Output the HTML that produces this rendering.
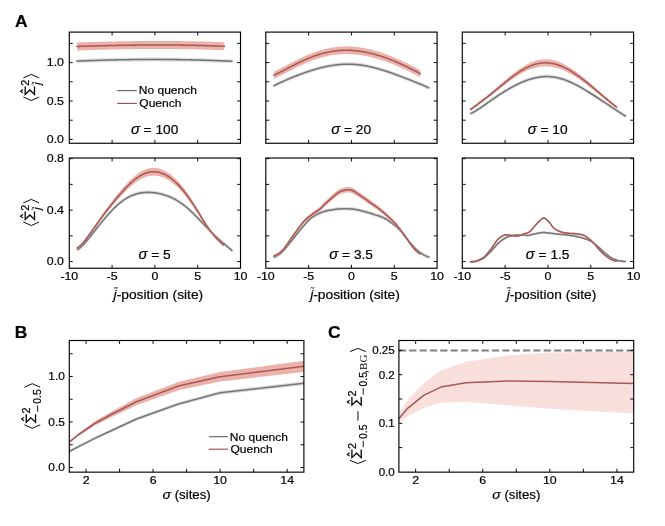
<!DOCTYPE html>
<html><head><meta charset="utf-8"><title>Figure</title>
<style>
domain{display:none;position:absolute;left:-9999px;top:-9999px;font-size:0;}
html,body{margin:0;padding:0;background:#fff;}
body{width:665px;height:526px;overflow:hidden;position:relative;font-family:"Liberation Sans",sans-serif;}
svg{display:block;position:absolute;left:0;top:0;z-index:5;will-change:transform;font-family:"Liberation Sans",sans-serif;}
svg text{fill:#000;stroke:#000;stroke-width:0.2px;}
</style></head><body>
<svg width="665" height="526" viewBox="0 0 665 526">
<rect width="665" height="526" fill="#fff"/>
<path d="M77.07,59.23 L77.85,59.19 L78.63,59.16 L79.40,59.13 L80.18,59.09 L80.96,59.06 L81.74,59.03 L82.52,59.00 L83.30,58.97 L84.08,58.94 L84.85,58.91 L85.63,58.88 L86.41,58.85 L87.19,58.82 L87.97,58.79 L88.75,58.76 L89.53,58.73 L90.31,58.70 L91.08,58.67 L91.86,58.65 L92.64,58.62 L93.42,58.59 L94.20,58.57 L94.98,58.54 L95.76,58.51 L96.53,58.49 L97.31,58.46 L98.09,58.44 L98.87,58.41 L99.65,58.39 L100.43,58.37 L101.21,58.34 L101.99,58.32 L102.76,58.30 L103.54,58.27 L104.32,58.25 L105.10,58.23 L105.88,58.21 L106.66,58.19 L107.44,58.17 L108.21,58.15 L108.99,58.13 L109.77,58.11 L110.55,58.09 L111.33,58.07 L112.11,58.05 L112.89,58.03 L113.66,58.02 L114.44,58.00 L115.22,57.98 L116.00,57.96 L116.78,57.95 L117.56,57.93 L118.34,57.92 L119.12,57.90 L119.89,57.89 L120.67,57.87 L121.45,57.86 L122.23,57.84 L123.01,57.83 L123.79,57.81 L124.57,57.80 L125.34,57.79 L126.12,57.78 L126.90,57.76 L127.68,57.75 L128.46,57.74 L129.24,57.73 L130.02,57.72 L130.80,57.71 L131.57,57.70 L132.35,57.69 L133.13,57.68 L133.91,57.67 L134.69,57.66 L135.47,57.66 L136.25,57.65 L137.02,57.64 L137.80,57.63 L138.58,57.63 L139.36,57.62 L140.14,57.61 L140.92,57.61 L141.70,57.60 L142.48,57.60 L143.25,57.59 L144.03,57.59 L144.81,57.58 L145.59,57.58 L146.37,57.58 L147.15,57.57 L147.93,57.57 L148.70,57.57 L149.48,57.57 L150.26,57.57 L151.04,57.56 L151.82,57.56 L152.60,57.56 L153.38,57.56 L154.16,57.56 L154.93,57.56 L155.71,57.56 L156.49,57.57 L157.27,57.57 L158.05,57.57 L158.83,57.57 L159.61,57.57 L160.38,57.58 L161.16,57.58 L161.94,57.58 L162.72,57.59 L163.50,57.59 L164.28,57.60 L165.06,57.60 L165.84,57.61 L166.61,57.61 L167.39,57.62 L168.17,57.63 L168.95,57.63 L169.73,57.64 L170.51,57.65 L171.29,57.66 L172.06,57.66 L172.84,57.67 L173.62,57.68 L174.40,57.69 L175.18,57.70 L175.96,57.71 L176.74,57.72 L177.51,57.73 L178.29,57.74 L179.07,57.75 L179.85,57.77 L180.63,57.78 L181.41,57.79 L182.19,57.80 L182.97,57.82 L183.74,57.83 L184.52,57.84 L185.30,57.86 L186.08,57.87 L186.86,57.89 L187.64,57.90 L188.42,57.92 L189.19,57.94 L189.97,57.95 L190.75,57.97 L191.53,57.99 L192.31,58.00 L193.09,58.02 L193.87,58.04 L194.65,58.06 L195.42,58.08 L196.20,58.10 L196.98,58.12 L197.76,58.14 L198.54,58.16 L199.32,58.18 L200.10,58.20 L200.87,58.22 L201.65,58.24 L202.43,58.26 L203.21,58.29 L203.99,58.31 L204.77,58.33 L205.55,58.36 L206.33,58.38 L207.10,58.40 L207.88,58.43 L208.66,58.45 L209.44,58.48 L210.22,58.50 L211.00,58.53 L211.78,58.56 L212.55,58.58 L213.33,58.61 L214.11,58.64 L214.89,58.67 L215.67,58.69 L216.45,58.72 L217.23,58.75 L218.01,58.78 L218.78,58.81 L219.56,58.84 L220.34,58.87 L221.12,58.90 L221.90,58.93 L222.68,58.96 L223.46,59.00 L224.23,59.03 L225.01,59.06 L225.79,59.09 L226.57,59.13 L227.35,59.16 L228.13,59.20 L228.91,59.23 L229.69,59.26 L230.46,59.30 L231.24,59.33 L232.02,59.37 L232.02,63.17 L231.24,63.13 L230.46,63.10 L229.69,63.06 L228.91,63.03 L228.13,63.00 L227.35,62.96 L226.57,62.93 L225.79,62.89 L225.01,62.86 L224.23,62.83 L223.46,62.80 L222.68,62.76 L221.90,62.73 L221.12,62.70 L220.34,62.67 L219.56,62.64 L218.78,62.61 L218.01,62.58 L217.23,62.55 L216.45,62.52 L215.67,62.49 L214.89,62.47 L214.11,62.44 L213.33,62.41 L212.55,62.38 L211.78,62.36 L211.00,62.33 L210.22,62.30 L209.44,62.28 L208.66,62.25 L207.88,62.23 L207.10,62.20 L206.33,62.18 L205.55,62.16 L204.77,62.13 L203.99,62.11 L203.21,62.09 L202.43,62.06 L201.65,62.04 L200.87,62.02 L200.10,62.00 L199.32,61.98 L198.54,61.96 L197.76,61.94 L196.98,61.92 L196.20,61.90 L195.42,61.88 L194.65,61.86 L193.87,61.84 L193.09,61.82 L192.31,61.80 L191.53,61.79 L190.75,61.77 L189.97,61.75 L189.19,61.74 L188.42,61.72 L187.64,61.70 L186.86,61.69 L186.08,61.67 L185.30,61.66 L184.52,61.64 L183.74,61.63 L182.97,61.62 L182.19,61.60 L181.41,61.59 L180.63,61.58 L179.85,61.57 L179.07,61.55 L178.29,61.54 L177.51,61.53 L176.74,61.52 L175.96,61.51 L175.18,61.50 L174.40,61.49 L173.62,61.48 L172.84,61.47 L172.06,61.46 L171.29,61.46 L170.51,61.45 L169.73,61.44 L168.95,61.43 L168.17,61.43 L167.39,61.42 L166.61,61.41 L165.84,61.41 L165.06,61.40 L164.28,61.40 L163.50,61.39 L162.72,61.39 L161.94,61.38 L161.16,61.38 L160.38,61.38 L159.61,61.37 L158.83,61.37 L158.05,61.37 L157.27,61.37 L156.49,61.37 L155.71,61.36 L154.93,61.36 L154.16,61.36 L153.38,61.36 L152.60,61.36 L151.82,61.36 L151.04,61.36 L150.26,61.37 L149.48,61.37 L148.70,61.37 L147.93,61.37 L147.15,61.37 L146.37,61.38 L145.59,61.38 L144.81,61.38 L144.03,61.39 L143.25,61.39 L142.48,61.40 L141.70,61.40 L140.92,61.41 L140.14,61.41 L139.36,61.42 L138.58,61.43 L137.80,61.43 L137.02,61.44 L136.25,61.45 L135.47,61.46 L134.69,61.46 L133.91,61.47 L133.13,61.48 L132.35,61.49 L131.57,61.50 L130.80,61.51 L130.02,61.52 L129.24,61.53 L128.46,61.54 L127.68,61.55 L126.90,61.56 L126.12,61.58 L125.34,61.59 L124.57,61.60 L123.79,61.61 L123.01,61.63 L122.23,61.64 L121.45,61.66 L120.67,61.67 L119.89,61.69 L119.12,61.70 L118.34,61.72 L117.56,61.73 L116.78,61.75 L116.00,61.76 L115.22,61.78 L114.44,61.80 L113.66,61.82 L112.89,61.83 L112.11,61.85 L111.33,61.87 L110.55,61.89 L109.77,61.91 L108.99,61.93 L108.21,61.95 L107.44,61.97 L106.66,61.99 L105.88,62.01 L105.10,62.03 L104.32,62.05 L103.54,62.07 L102.76,62.10 L101.99,62.12 L101.21,62.14 L100.43,62.17 L99.65,62.19 L98.87,62.21 L98.09,62.24 L97.31,62.26 L96.53,62.29 L95.76,62.31 L94.98,62.34 L94.20,62.37 L93.42,62.39 L92.64,62.42 L91.86,62.45 L91.08,62.47 L90.31,62.50 L89.53,62.53 L88.75,62.56 L87.97,62.59 L87.19,62.62 L86.41,62.65 L85.63,62.68 L84.85,62.71 L84.08,62.74 L83.30,62.77 L82.52,62.80 L81.74,62.83 L80.96,62.86 L80.18,62.89 L79.40,62.93 L78.63,62.96 L77.85,62.99 L77.07,63.03Z" fill="#dddddd" stroke="none"/>
<path d="M77.07,61.13 L77.85,61.09 L78.63,61.06 L79.40,61.03 L80.18,60.99 L80.96,60.96 L81.74,60.93 L82.52,60.90 L83.30,60.87 L84.08,60.84 L84.85,60.81 L85.63,60.78 L86.41,60.75 L87.19,60.72 L87.97,60.69 L88.75,60.66 L89.53,60.63 L90.31,60.60 L91.08,60.57 L91.86,60.55 L92.64,60.52 L93.42,60.49 L94.20,60.47 L94.98,60.44 L95.76,60.41 L96.53,60.39 L97.31,60.36 L98.09,60.34 L98.87,60.31 L99.65,60.29 L100.43,60.27 L101.21,60.24 L101.99,60.22 L102.76,60.20 L103.54,60.17 L104.32,60.15 L105.10,60.13 L105.88,60.11 L106.66,60.09 L107.44,60.07 L108.21,60.05 L108.99,60.03 L109.77,60.01 L110.55,59.99 L111.33,59.97 L112.11,59.95 L112.89,59.93 L113.66,59.92 L114.44,59.90 L115.22,59.88 L116.00,59.86 L116.78,59.85 L117.56,59.83 L118.34,59.82 L119.12,59.80 L119.89,59.79 L120.67,59.77 L121.45,59.76 L122.23,59.74 L123.01,59.73 L123.79,59.71 L124.57,59.70 L125.34,59.69 L126.12,59.68 L126.90,59.66 L127.68,59.65 L128.46,59.64 L129.24,59.63 L130.02,59.62 L130.80,59.61 L131.57,59.60 L132.35,59.59 L133.13,59.58 L133.91,59.57 L134.69,59.56 L135.47,59.56 L136.25,59.55 L137.02,59.54 L137.80,59.53 L138.58,59.53 L139.36,59.52 L140.14,59.51 L140.92,59.51 L141.70,59.50 L142.48,59.50 L143.25,59.49 L144.03,59.49 L144.81,59.48 L145.59,59.48 L146.37,59.48 L147.15,59.47 L147.93,59.47 L148.70,59.47 L149.48,59.47 L150.26,59.47 L151.04,59.46 L151.82,59.46 L152.60,59.46 L153.38,59.46 L154.16,59.46 L154.93,59.46 L155.71,59.46 L156.49,59.47 L157.27,59.47 L158.05,59.47 L158.83,59.47 L159.61,59.47 L160.38,59.48 L161.16,59.48 L161.94,59.48 L162.72,59.49 L163.50,59.49 L164.28,59.50 L165.06,59.50 L165.84,59.51 L166.61,59.51 L167.39,59.52 L168.17,59.53 L168.95,59.53 L169.73,59.54 L170.51,59.55 L171.29,59.56 L172.06,59.56 L172.84,59.57 L173.62,59.58 L174.40,59.59 L175.18,59.60 L175.96,59.61 L176.74,59.62 L177.51,59.63 L178.29,59.64 L179.07,59.65 L179.85,59.67 L180.63,59.68 L181.41,59.69 L182.19,59.70 L182.97,59.72 L183.74,59.73 L184.52,59.74 L185.30,59.76 L186.08,59.77 L186.86,59.79 L187.64,59.80 L188.42,59.82 L189.19,59.84 L189.97,59.85 L190.75,59.87 L191.53,59.89 L192.31,59.90 L193.09,59.92 L193.87,59.94 L194.65,59.96 L195.42,59.98 L196.20,60.00 L196.98,60.02 L197.76,60.04 L198.54,60.06 L199.32,60.08 L200.10,60.10 L200.87,60.12 L201.65,60.14 L202.43,60.16 L203.21,60.19 L203.99,60.21 L204.77,60.23 L205.55,60.26 L206.33,60.28 L207.10,60.30 L207.88,60.33 L208.66,60.35 L209.44,60.38 L210.22,60.40 L211.00,60.43 L211.78,60.46 L212.55,60.48 L213.33,60.51 L214.11,60.54 L214.89,60.57 L215.67,60.59 L216.45,60.62 L217.23,60.65 L218.01,60.68 L218.78,60.71 L219.56,60.74 L220.34,60.77 L221.12,60.80 L221.90,60.83 L222.68,60.86 L223.46,60.90 L224.23,60.93 L225.01,60.96 L225.79,60.99 L226.57,61.03 L227.35,61.06 L228.13,61.10 L228.91,61.13 L229.69,61.16 L230.46,61.20 L231.24,61.23 L232.02,61.27" fill="none" stroke="#767676" stroke-width="1.55" stroke-linejoin="round" stroke-linecap="square"/>
<path d="M77.07,42.46 L77.81,42.44 L78.55,42.41 L79.29,42.39 L80.03,42.37 L80.77,42.34 L81.51,42.32 L82.25,42.30 L82.99,42.27 L83.73,42.25 L84.47,42.23 L85.21,42.21 L85.94,42.18 L86.68,42.16 L87.42,42.14 L88.16,42.12 L88.90,42.09 L89.64,42.07 L90.38,42.05 L91.12,42.03 L91.86,42.01 L92.60,41.99 L93.34,41.97 L94.08,41.95 L94.82,41.93 L95.56,41.91 L96.30,41.88 L97.04,41.86 L97.78,41.84 L98.52,41.83 L99.26,41.81 L100.00,41.79 L100.74,41.77 L101.48,41.75 L102.22,41.73 L102.96,41.71 L103.70,41.69 L104.44,41.67 L105.18,41.66 L105.92,41.64 L106.66,41.62 L107.40,41.60 L108.14,41.58 L108.88,41.57 L109.62,41.55 L110.36,41.53 L111.10,41.52 L111.84,41.50 L112.57,41.49 L113.31,41.47 L114.05,41.45 L114.79,41.44 L115.53,41.42 L116.27,41.41 L117.01,41.39 L117.75,41.38 L118.49,41.36 L119.23,41.35 L119.97,41.34 L120.71,41.32 L121.45,41.31 L122.19,41.29 L122.93,41.28 L123.67,41.27 L124.41,41.26 L125.15,41.24 L125.89,41.23 L126.63,41.22 L127.37,41.21 L128.11,41.20 L128.85,41.19 L129.59,41.17 L130.33,41.16 L131.07,41.15 L131.81,41.14 L132.55,41.13 L133.29,41.12 L134.03,41.11 L134.77,41.10 L135.51,41.10 L136.25,41.09 L136.99,41.08 L137.73,41.07 L138.47,41.06 L139.20,41.05 L139.94,41.05 L140.68,41.04 L141.42,41.03 L142.16,41.03 L142.90,41.02 L143.64,41.01 L144.38,41.01 L145.12,41.00 L145.86,41.00 L146.60,40.99 L147.34,40.99 L148.08,40.98 L148.82,40.98 L149.56,40.98 L150.30,40.97 L151.04,40.97 L151.78,40.97 L152.52,40.96 L153.26,40.96 L154.00,40.96 L154.74,40.96 L155.48,40.96 L156.22,40.96 L156.96,40.95 L157.70,40.95 L158.44,40.95 L159.18,40.95 L159.92,40.95 L160.66,40.95 L161.40,40.96 L162.14,40.96 L162.88,40.96 L163.62,40.96 L164.36,40.96 L165.10,40.97 L165.84,40.97 L166.57,40.97 L167.31,40.97 L168.05,40.98 L168.79,40.98 L169.53,40.99 L170.27,40.99 L171.01,41.00 L171.75,41.00 L172.49,41.01 L173.23,41.01 L173.97,41.02 L174.71,41.03 L175.45,41.04 L176.19,41.04 L176.93,41.05 L177.67,41.06 L178.41,41.07 L179.15,41.08 L179.89,41.09 L180.63,41.10 L181.37,41.11 L182.11,41.12 L182.85,41.13 L183.59,41.14 L184.33,41.15 L185.07,41.16 L185.81,41.17 L186.55,41.19 L187.29,41.20 L188.03,41.21 L188.77,41.23 L189.51,41.24 L190.25,41.25 L190.99,41.27 L191.73,41.28 L192.47,41.30 L193.20,41.32 L193.94,41.33 L194.68,41.35 L195.42,41.37 L196.16,41.38 L196.90,41.40 L197.64,41.42 L198.38,41.44 L199.12,41.46 L199.86,41.48 L200.60,41.50 L201.34,41.52 L202.08,41.54 L202.82,41.56 L203.56,41.58 L204.30,41.60 L205.04,41.62 L205.78,41.65 L206.52,41.67 L207.26,41.69 L208.00,41.72 L208.74,41.74 L209.48,41.77 L210.22,41.79 L210.96,41.82 L211.70,41.84 L212.44,41.87 L213.18,41.89 L213.92,41.92 L214.66,41.95 L215.40,41.98 L216.14,42.01 L216.88,42.04 L217.62,42.06 L218.36,42.09 L219.10,42.12 L219.84,42.16 L220.57,42.19 L221.31,42.22 L222.05,42.25 L222.79,42.28 L223.53,42.32 L224.27,42.35 L224.27,50.35 L223.53,50.32 L222.79,50.28 L222.05,50.25 L221.31,50.22 L220.57,50.19 L219.84,50.16 L219.10,50.12 L218.36,50.09 L217.62,50.06 L216.88,50.04 L216.14,50.01 L215.40,49.98 L214.66,49.95 L213.92,49.92 L213.18,49.89 L212.44,49.87 L211.70,49.84 L210.96,49.82 L210.22,49.79 L209.48,49.77 L208.74,49.74 L208.00,49.72 L207.26,49.69 L206.52,49.67 L205.78,49.65 L205.04,49.62 L204.30,49.60 L203.56,49.58 L202.82,49.56 L202.08,49.54 L201.34,49.52 L200.60,49.50 L199.86,49.48 L199.12,49.46 L198.38,49.44 L197.64,49.42 L196.90,49.40 L196.16,49.38 L195.42,49.37 L194.68,49.35 L193.94,49.33 L193.20,49.32 L192.47,49.30 L191.73,49.28 L190.99,49.27 L190.25,49.25 L189.51,49.24 L188.77,49.23 L188.03,49.21 L187.29,49.20 L186.55,49.19 L185.81,49.17 L185.07,49.16 L184.33,49.15 L183.59,49.14 L182.85,49.13 L182.11,49.12 L181.37,49.11 L180.63,49.10 L179.89,49.09 L179.15,49.08 L178.41,49.07 L177.67,49.06 L176.93,49.05 L176.19,49.04 L175.45,49.04 L174.71,49.03 L173.97,49.02 L173.23,49.01 L172.49,49.01 L171.75,49.00 L171.01,49.00 L170.27,48.99 L169.53,48.99 L168.79,48.98 L168.05,48.98 L167.31,48.97 L166.57,48.97 L165.84,48.97 L165.10,48.97 L164.36,48.96 L163.62,48.96 L162.88,48.96 L162.14,48.96 L161.40,48.96 L160.66,48.95 L159.92,48.95 L159.18,48.95 L158.44,48.95 L157.70,48.95 L156.96,48.95 L156.22,48.96 L155.48,48.96 L154.74,48.96 L154.00,48.96 L153.26,48.96 L152.52,48.96 L151.78,48.97 L151.04,48.97 L150.30,48.97 L149.56,48.98 L148.82,48.98 L148.08,48.98 L147.34,48.99 L146.60,48.99 L145.86,49.00 L145.12,49.00 L144.38,49.01 L143.64,49.01 L142.90,49.02 L142.16,49.03 L141.42,49.03 L140.68,49.04 L139.94,49.05 L139.20,49.05 L138.47,49.06 L137.73,49.07 L136.99,49.08 L136.25,49.09 L135.51,49.10 L134.77,49.10 L134.03,49.11 L133.29,49.12 L132.55,49.13 L131.81,49.14 L131.07,49.15 L130.33,49.16 L129.59,49.17 L128.85,49.19 L128.11,49.20 L127.37,49.21 L126.63,49.22 L125.89,49.23 L125.15,49.24 L124.41,49.26 L123.67,49.27 L122.93,49.28 L122.19,49.29 L121.45,49.31 L120.71,49.32 L119.97,49.34 L119.23,49.35 L118.49,49.36 L117.75,49.38 L117.01,49.39 L116.27,49.41 L115.53,49.42 L114.79,49.44 L114.05,49.45 L113.31,49.47 L112.57,49.49 L111.84,49.50 L111.10,49.52 L110.36,49.53 L109.62,49.55 L108.88,49.57 L108.14,49.58 L107.40,49.60 L106.66,49.62 L105.92,49.64 L105.18,49.66 L104.44,49.67 L103.70,49.69 L102.96,49.71 L102.22,49.73 L101.48,49.75 L100.74,49.77 L100.00,49.79 L99.26,49.81 L98.52,49.83 L97.78,49.84 L97.04,49.86 L96.30,49.88 L95.56,49.91 L94.82,49.93 L94.08,49.95 L93.34,49.97 L92.60,49.99 L91.86,50.01 L91.12,50.03 L90.38,50.05 L89.64,50.07 L88.90,50.09 L88.16,50.12 L87.42,50.14 L86.68,50.16 L85.94,50.18 L85.21,50.21 L84.47,50.23 L83.73,50.25 L82.99,50.27 L82.25,50.30 L81.51,50.32 L80.77,50.34 L80.03,50.37 L79.29,50.39 L78.55,50.41 L77.81,50.44 L77.07,50.46Z" fill="#eeb1a9" stroke="none"/>
<path d="M77.07,46.46 L77.81,46.44 L78.55,46.41 L79.29,46.39 L80.03,46.37 L80.77,46.34 L81.51,46.32 L82.25,46.30 L82.99,46.27 L83.73,46.25 L84.47,46.23 L85.21,46.21 L85.94,46.18 L86.68,46.16 L87.42,46.14 L88.16,46.12 L88.90,46.09 L89.64,46.07 L90.38,46.05 L91.12,46.03 L91.86,46.01 L92.60,45.99 L93.34,45.97 L94.08,45.95 L94.82,45.93 L95.56,45.91 L96.30,45.88 L97.04,45.86 L97.78,45.84 L98.52,45.83 L99.26,45.81 L100.00,45.79 L100.74,45.77 L101.48,45.75 L102.22,45.73 L102.96,45.71 L103.70,45.69 L104.44,45.67 L105.18,45.66 L105.92,45.64 L106.66,45.62 L107.40,45.60 L108.14,45.58 L108.88,45.57 L109.62,45.55 L110.36,45.53 L111.10,45.52 L111.84,45.50 L112.57,45.49 L113.31,45.47 L114.05,45.45 L114.79,45.44 L115.53,45.42 L116.27,45.41 L117.01,45.39 L117.75,45.38 L118.49,45.36 L119.23,45.35 L119.97,45.34 L120.71,45.32 L121.45,45.31 L122.19,45.29 L122.93,45.28 L123.67,45.27 L124.41,45.26 L125.15,45.24 L125.89,45.23 L126.63,45.22 L127.37,45.21 L128.11,45.20 L128.85,45.19 L129.59,45.17 L130.33,45.16 L131.07,45.15 L131.81,45.14 L132.55,45.13 L133.29,45.12 L134.03,45.11 L134.77,45.10 L135.51,45.10 L136.25,45.09 L136.99,45.08 L137.73,45.07 L138.47,45.06 L139.20,45.05 L139.94,45.05 L140.68,45.04 L141.42,45.03 L142.16,45.03 L142.90,45.02 L143.64,45.01 L144.38,45.01 L145.12,45.00 L145.86,45.00 L146.60,44.99 L147.34,44.99 L148.08,44.98 L148.82,44.98 L149.56,44.98 L150.30,44.97 L151.04,44.97 L151.78,44.97 L152.52,44.96 L153.26,44.96 L154.00,44.96 L154.74,44.96 L155.48,44.96 L156.22,44.96 L156.96,44.95 L157.70,44.95 L158.44,44.95 L159.18,44.95 L159.92,44.95 L160.66,44.95 L161.40,44.96 L162.14,44.96 L162.88,44.96 L163.62,44.96 L164.36,44.96 L165.10,44.97 L165.84,44.97 L166.57,44.97 L167.31,44.97 L168.05,44.98 L168.79,44.98 L169.53,44.99 L170.27,44.99 L171.01,45.00 L171.75,45.00 L172.49,45.01 L173.23,45.01 L173.97,45.02 L174.71,45.03 L175.45,45.04 L176.19,45.04 L176.93,45.05 L177.67,45.06 L178.41,45.07 L179.15,45.08 L179.89,45.09 L180.63,45.10 L181.37,45.11 L182.11,45.12 L182.85,45.13 L183.59,45.14 L184.33,45.15 L185.07,45.16 L185.81,45.17 L186.55,45.19 L187.29,45.20 L188.03,45.21 L188.77,45.23 L189.51,45.24 L190.25,45.25 L190.99,45.27 L191.73,45.28 L192.47,45.30 L193.20,45.32 L193.94,45.33 L194.68,45.35 L195.42,45.37 L196.16,45.38 L196.90,45.40 L197.64,45.42 L198.38,45.44 L199.12,45.46 L199.86,45.48 L200.60,45.50 L201.34,45.52 L202.08,45.54 L202.82,45.56 L203.56,45.58 L204.30,45.60 L205.04,45.62 L205.78,45.65 L206.52,45.67 L207.26,45.69 L208.00,45.72 L208.74,45.74 L209.48,45.77 L210.22,45.79 L210.96,45.82 L211.70,45.84 L212.44,45.87 L213.18,45.89 L213.92,45.92 L214.66,45.95 L215.40,45.98 L216.14,46.01 L216.88,46.04 L217.62,46.06 L218.36,46.09 L219.10,46.12 L219.84,46.16 L220.57,46.19 L221.31,46.22 L222.05,46.25 L222.79,46.28 L223.53,46.32 L224.27,46.35" fill="none" stroke="#a55a57" stroke-width="1.55" stroke-linejoin="round" stroke-linecap="square"/>
<rect x="69.3" y="32.1" width="171.20" height="111.15" fill="none" stroke="#000" stroke-width="1.15"/>
<path d="M112.10,32.1v3.4M112.10,143.25v-3.4M154.90,32.1v3.4M154.90,143.25v-3.4M197.70,32.1v3.4M197.70,143.25v-3.4M69.3,139.40h3.4M240.5,139.40h-3.4M69.3,120.20h3.4M240.5,120.20h-3.4M69.3,101.00h3.4M240.5,101.00h-3.4M69.3,81.80h3.4M240.5,81.80h-3.4M69.3,62.60h3.4M240.5,62.60h-3.4M69.3,43.40h3.4M240.5,43.40h-3.4" stroke="#000" stroke-width="0.95" fill="none"/>
<text transform="translate(154.60,133.90) scale(1.04,1)" font-size="13.2" text-anchor="middle" ><tspan font-style="italic" font-size="14.2">σ</tspan> = 100</text>
<text transform="translate(64.00,66.35) scale(1.085,1)" font-size="11.4" text-anchor="end" >1.0</text>
<text transform="translate(64.00,104.75) scale(1.085,1)" font-size="11.4" text-anchor="end" >0.5</text>
<text transform="translate(64.00,143.15) scale(1.085,1)" font-size="11.4" text-anchor="end" >0.0</text>
<path d="M274.02,83.86 L274.80,83.45 L275.58,83.06 L276.35,82.66 L277.13,82.28 L277.91,81.90 L278.69,81.52 L279.47,81.15 L280.24,80.78 L281.02,80.42 L281.80,80.06 L282.58,79.70 L283.36,79.35 L284.13,79.00 L284.91,78.66 L285.69,78.32 L286.47,77.98 L287.25,77.64 L288.02,77.31 L288.80,76.98 L289.58,76.66 L290.36,76.33 L291.14,76.01 L291.92,75.69 L292.69,75.38 L293.47,75.06 L294.25,74.75 L295.03,74.44 L295.81,74.14 L296.58,73.84 L297.36,73.54 L298.14,73.24 L298.92,72.94 L299.70,72.65 L300.47,72.36 L301.25,72.07 L302.03,71.79 L302.81,71.51 L303.59,71.23 L304.36,70.95 L305.14,70.68 L305.92,70.41 L306.70,70.14 L307.48,69.87 L308.25,69.61 L309.03,69.35 L309.81,69.10 L310.59,68.85 L311.37,68.60 L312.15,68.35 L312.92,68.11 L313.70,67.88 L314.48,67.64 L315.26,67.41 L316.04,67.19 L316.81,66.96 L317.59,66.75 L318.37,66.53 L319.15,66.32 L319.93,66.12 L320.70,65.92 L321.48,65.72 L322.26,65.53 L323.04,65.34 L323.82,65.16 L324.59,64.99 L325.37,64.81 L326.15,64.65 L326.93,64.48 L327.71,64.33 L328.48,64.18 L329.26,64.03 L330.04,63.89 L330.82,63.75 L331.60,63.62 L332.38,63.50 L333.15,63.38 L333.93,63.27 L334.71,63.16 L335.49,63.06 L336.27,62.96 L337.04,62.87 L337.82,62.79 L338.60,62.71 L339.38,62.64 L340.16,62.58 L340.93,62.52 L341.71,62.47 L342.49,62.42 L343.27,62.38 L344.05,62.35 L344.82,62.32 L345.60,62.30 L346.38,62.28 L347.16,62.27 L347.94,62.27 L348.71,62.28 L349.49,62.29 L350.27,62.30 L351.05,62.33 L351.83,62.36 L352.61,62.39 L353.38,62.44 L354.16,62.49 L354.94,62.54 L355.72,62.60 L356.50,62.67 L357.27,62.74 L358.05,62.82 L358.83,62.91 L359.61,63.00 L360.39,63.10 L361.16,63.21 L361.94,63.32 L362.72,63.43 L363.50,63.56 L364.28,63.68 L365.05,63.82 L365.83,63.96 L366.61,64.10 L367.39,64.25 L368.17,64.41 L368.94,64.57 L369.72,64.74 L370.50,64.91 L371.28,65.08 L372.06,65.27 L372.84,65.45 L373.61,65.64 L374.39,65.84 L375.17,66.04 L375.95,66.25 L376.73,66.46 L377.50,66.67 L378.28,66.89 L379.06,67.11 L379.84,67.34 L380.62,67.57 L381.39,67.80 L382.17,68.04 L382.95,68.28 L383.73,68.52 L384.51,68.77 L385.28,69.02 L386.06,69.28 L386.84,69.54 L387.62,69.80 L388.40,70.06 L389.17,70.33 L389.95,70.59 L390.73,70.87 L391.51,71.14 L392.29,71.42 L393.07,71.69 L393.84,71.97 L394.62,72.26 L395.40,72.54 L396.18,72.82 L396.96,73.11 L397.73,73.40 L398.51,73.69 L399.29,73.98 L400.07,74.28 L400.85,74.57 L401.62,74.87 L402.40,75.16 L403.18,75.46 L403.96,75.76 L404.74,76.06 L405.51,76.36 L406.29,76.66 L407.07,76.97 L407.85,77.27 L408.63,77.57 L409.40,77.88 L410.18,78.18 L410.96,78.49 L411.74,78.80 L412.52,79.11 L413.30,79.42 L414.07,79.73 L414.85,80.04 L415.63,80.35 L416.41,80.66 L417.19,80.97 L417.96,81.29 L418.74,81.61 L419.52,81.92 L420.30,82.24 L421.08,82.56 L421.85,82.88 L422.63,83.21 L423.41,83.53 L424.19,83.86 L424.97,84.19 L425.74,84.53 L426.52,84.86 L427.30,85.20 L428.08,85.54 L428.86,85.89 L428.86,89.69 L428.08,89.34 L427.30,89.00 L426.52,88.66 L425.74,88.33 L424.97,87.99 L424.19,87.66 L423.41,87.33 L422.63,87.01 L421.85,86.68 L421.08,86.36 L420.30,86.04 L419.52,85.72 L418.74,85.41 L417.96,85.09 L417.19,84.77 L416.41,84.46 L415.63,84.15 L414.85,83.84 L414.07,83.53 L413.30,83.22 L412.52,82.91 L411.74,82.60 L410.96,82.29 L410.18,81.98 L409.40,81.68 L408.63,81.37 L407.85,81.07 L407.07,80.77 L406.29,80.46 L405.51,80.16 L404.74,79.86 L403.96,79.56 L403.18,79.26 L402.40,78.96 L401.62,78.67 L400.85,78.37 L400.07,78.08 L399.29,77.78 L398.51,77.49 L397.73,77.20 L396.96,76.91 L396.18,76.62 L395.40,76.34 L394.62,76.06 L393.84,75.77 L393.07,75.49 L392.29,75.22 L391.51,74.94 L390.73,74.67 L389.95,74.39 L389.17,74.13 L388.40,73.86 L387.62,73.60 L386.84,73.34 L386.06,73.08 L385.28,72.82 L384.51,72.57 L383.73,72.32 L382.95,72.08 L382.17,71.84 L381.39,71.60 L380.62,71.37 L379.84,71.14 L379.06,70.91 L378.28,70.69 L377.50,70.47 L376.73,70.26 L375.95,70.05 L375.17,69.84 L374.39,69.64 L373.61,69.44 L372.84,69.25 L372.06,69.07 L371.28,68.88 L370.50,68.71 L369.72,68.54 L368.94,68.37 L368.17,68.21 L367.39,68.05 L366.61,67.90 L365.83,67.76 L365.05,67.62 L364.28,67.48 L363.50,67.36 L362.72,67.23 L361.94,67.12 L361.16,67.01 L360.39,66.90 L359.61,66.80 L358.83,66.71 L358.05,66.62 L357.27,66.54 L356.50,66.47 L355.72,66.40 L354.94,66.34 L354.16,66.29 L353.38,66.24 L352.61,66.19 L351.83,66.16 L351.05,66.13 L350.27,66.10 L349.49,66.09 L348.71,66.08 L347.94,66.07 L347.16,66.07 L346.38,66.08 L345.60,66.10 L344.82,66.12 L344.05,66.15 L343.27,66.18 L342.49,66.22 L341.71,66.27 L340.93,66.32 L340.16,66.38 L339.38,66.44 L338.60,66.51 L337.82,66.59 L337.04,66.67 L336.27,66.76 L335.49,66.86 L334.71,66.96 L333.93,67.07 L333.15,67.18 L332.38,67.30 L331.60,67.42 L330.82,67.55 L330.04,67.69 L329.26,67.83 L328.48,67.98 L327.71,68.13 L326.93,68.28 L326.15,68.45 L325.37,68.61 L324.59,68.79 L323.82,68.96 L323.04,69.14 L322.26,69.33 L321.48,69.52 L320.70,69.72 L319.93,69.92 L319.15,70.12 L318.37,70.33 L317.59,70.55 L316.81,70.76 L316.04,70.99 L315.26,71.21 L314.48,71.44 L313.70,71.68 L312.92,71.91 L312.15,72.15 L311.37,72.40 L310.59,72.65 L309.81,72.90 L309.03,73.15 L308.25,73.41 L307.48,73.67 L306.70,73.94 L305.92,74.21 L305.14,74.48 L304.36,74.75 L303.59,75.03 L302.81,75.31 L302.03,75.59 L301.25,75.87 L300.47,76.16 L299.70,76.45 L298.92,76.74 L298.14,77.04 L297.36,77.34 L296.58,77.64 L295.81,77.94 L295.03,78.24 L294.25,78.55 L293.47,78.86 L292.69,79.18 L291.92,79.49 L291.14,79.81 L290.36,80.13 L289.58,80.46 L288.80,80.78 L288.02,81.11 L287.25,81.44 L286.47,81.78 L285.69,82.12 L284.91,82.46 L284.13,82.80 L283.36,83.15 L282.58,83.50 L281.80,83.86 L281.02,84.22 L280.24,84.58 L279.47,84.95 L278.69,85.32 L277.91,85.70 L277.13,86.08 L276.35,86.46 L275.58,86.86 L274.80,87.25 L274.02,87.66Z" fill="#dddddd" stroke="none"/>
<path d="M274.02,85.76 L274.80,85.35 L275.58,84.96 L276.35,84.56 L277.13,84.18 L277.91,83.80 L278.69,83.42 L279.47,83.05 L280.24,82.68 L281.02,82.32 L281.80,81.96 L282.58,81.60 L283.36,81.25 L284.13,80.90 L284.91,80.56 L285.69,80.22 L286.47,79.88 L287.25,79.54 L288.02,79.21 L288.80,78.88 L289.58,78.56 L290.36,78.23 L291.14,77.91 L291.92,77.59 L292.69,77.28 L293.47,76.96 L294.25,76.65 L295.03,76.34 L295.81,76.04 L296.58,75.74 L297.36,75.44 L298.14,75.14 L298.92,74.84 L299.70,74.55 L300.47,74.26 L301.25,73.97 L302.03,73.69 L302.81,73.41 L303.59,73.13 L304.36,72.85 L305.14,72.58 L305.92,72.31 L306.70,72.04 L307.48,71.77 L308.25,71.51 L309.03,71.25 L309.81,71.00 L310.59,70.75 L311.37,70.50 L312.15,70.25 L312.92,70.01 L313.70,69.78 L314.48,69.54 L315.26,69.31 L316.04,69.09 L316.81,68.86 L317.59,68.65 L318.37,68.43 L319.15,68.22 L319.93,68.02 L320.70,67.82 L321.48,67.62 L322.26,67.43 L323.04,67.24 L323.82,67.06 L324.59,66.89 L325.37,66.71 L326.15,66.55 L326.93,66.38 L327.71,66.23 L328.48,66.08 L329.26,65.93 L330.04,65.79 L330.82,65.65 L331.60,65.52 L332.38,65.40 L333.15,65.28 L333.93,65.17 L334.71,65.06 L335.49,64.96 L336.27,64.86 L337.04,64.77 L337.82,64.69 L338.60,64.61 L339.38,64.54 L340.16,64.48 L340.93,64.42 L341.71,64.37 L342.49,64.32 L343.27,64.28 L344.05,64.25 L344.82,64.22 L345.60,64.20 L346.38,64.18 L347.16,64.17 L347.94,64.17 L348.71,64.18 L349.49,64.19 L350.27,64.20 L351.05,64.23 L351.83,64.26 L352.61,64.29 L353.38,64.34 L354.16,64.39 L354.94,64.44 L355.72,64.50 L356.50,64.57 L357.27,64.64 L358.05,64.72 L358.83,64.81 L359.61,64.90 L360.39,65.00 L361.16,65.11 L361.94,65.22 L362.72,65.33 L363.50,65.46 L364.28,65.58 L365.05,65.72 L365.83,65.86 L366.61,66.00 L367.39,66.15 L368.17,66.31 L368.94,66.47 L369.72,66.64 L370.50,66.81 L371.28,66.98 L372.06,67.17 L372.84,67.35 L373.61,67.54 L374.39,67.74 L375.17,67.94 L375.95,68.15 L376.73,68.36 L377.50,68.57 L378.28,68.79 L379.06,69.01 L379.84,69.24 L380.62,69.47 L381.39,69.70 L382.17,69.94 L382.95,70.18 L383.73,70.42 L384.51,70.67 L385.28,70.92 L386.06,71.18 L386.84,71.44 L387.62,71.70 L388.40,71.96 L389.17,72.23 L389.95,72.49 L390.73,72.77 L391.51,73.04 L392.29,73.32 L393.07,73.59 L393.84,73.87 L394.62,74.16 L395.40,74.44 L396.18,74.72 L396.96,75.01 L397.73,75.30 L398.51,75.59 L399.29,75.88 L400.07,76.18 L400.85,76.47 L401.62,76.77 L402.40,77.06 L403.18,77.36 L403.96,77.66 L404.74,77.96 L405.51,78.26 L406.29,78.56 L407.07,78.87 L407.85,79.17 L408.63,79.47 L409.40,79.78 L410.18,80.08 L410.96,80.39 L411.74,80.70 L412.52,81.01 L413.30,81.32 L414.07,81.63 L414.85,81.94 L415.63,82.25 L416.41,82.56 L417.19,82.87 L417.96,83.19 L418.74,83.51 L419.52,83.82 L420.30,84.14 L421.08,84.46 L421.85,84.78 L422.63,85.11 L423.41,85.43 L424.19,85.76 L424.97,86.09 L425.74,86.43 L426.52,86.76 L427.30,87.10 L428.08,87.44 L428.86,87.79" fill="none" stroke="#767676" stroke-width="1.55" stroke-linejoin="round" stroke-linecap="square"/>
<path d="M274.02,71.69 L274.75,71.34 L275.49,70.99 L276.22,70.63 L276.96,70.27 L277.69,69.91 L278.42,69.54 L279.16,69.17 L279.89,68.79 L280.63,68.42 L281.36,68.04 L282.09,67.66 L282.83,67.28 L283.56,66.89 L284.30,66.51 L285.03,66.12 L285.77,65.74 L286.50,65.35 L287.23,64.96 L287.97,64.58 L288.70,64.19 L289.44,63.81 L290.17,63.42 L290.90,63.04 L291.64,62.66 L292.37,62.28 L293.11,61.90 L293.84,61.52 L294.58,61.14 L295.31,60.77 L296.04,60.40 L296.78,60.03 L297.51,59.66 L298.25,59.30 L298.98,58.94 L299.71,58.58 L300.45,58.23 L301.18,57.88 L301.92,57.53 L302.65,57.19 L303.39,56.85 L304.12,56.52 L304.85,56.19 L305.59,55.86 L306.32,55.54 L307.06,55.22 L307.79,54.91 L308.52,54.60 L309.26,54.29 L309.99,54.00 L310.73,53.70 L311.46,53.41 L312.20,53.13 L312.93,52.85 L313.66,52.58 L314.40,52.31 L315.13,52.05 L315.87,51.79 L316.60,51.54 L317.33,51.30 L318.07,51.06 L318.80,50.82 L319.54,50.59 L320.27,50.37 L321.00,50.15 L321.74,49.94 L322.47,49.74 L323.21,49.54 L323.94,49.35 L324.68,49.16 L325.41,48.98 L326.14,48.81 L326.88,48.64 L327.61,48.48 L328.35,48.32 L329.08,48.17 L329.81,48.03 L330.55,47.89 L331.28,47.76 L332.02,47.64 L332.75,47.52 L333.49,47.41 L334.22,47.30 L334.95,47.20 L335.69,47.11 L336.42,47.02 L337.16,46.94 L337.89,46.87 L338.62,46.80 L339.36,46.74 L340.09,46.68 L340.83,46.63 L341.56,46.59 L342.30,46.55 L343.03,46.52 L343.76,46.49 L344.50,46.48 L345.23,46.46 L345.97,46.46 L346.70,46.46 L347.43,46.46 L348.17,46.47 L348.90,46.49 L349.64,46.51 L350.37,46.54 L351.11,46.58 L351.84,46.62 L352.57,46.67 L353.31,46.72 L354.04,46.78 L354.78,46.84 L355.51,46.91 L356.24,46.99 L356.98,47.07 L357.71,47.15 L358.45,47.25 L359.18,47.34 L359.91,47.45 L360.65,47.55 L361.38,47.67 L362.12,47.79 L362.85,47.91 L363.59,48.04 L364.32,48.17 L365.05,48.31 L365.79,48.46 L366.52,48.61 L367.26,48.76 L367.99,48.92 L368.72,49.09 L369.46,49.25 L370.19,49.43 L370.93,49.61 L371.66,49.79 L372.40,49.98 L373.13,50.17 L373.86,50.37 L374.60,50.57 L375.33,50.78 L376.07,50.99 L376.80,51.20 L377.53,51.42 L378.27,51.64 L379.00,51.87 L379.74,52.10 L380.47,52.34 L381.21,52.58 L381.94,52.82 L382.67,53.07 L383.41,53.32 L384.14,53.58 L384.88,53.84 L385.61,54.10 L386.34,54.37 L387.08,54.64 L387.81,54.91 L388.55,55.19 L389.28,55.47 L390.02,55.76 L390.75,56.04 L391.48,56.34 L392.22,56.63 L392.95,56.93 L393.69,57.23 L394.42,57.54 L395.15,57.85 L395.89,58.16 L396.62,58.47 L397.36,58.79 L398.09,59.11 L398.82,59.44 L399.56,59.77 L400.29,60.10 L401.03,60.43 L401.76,60.77 L402.50,61.11 L403.23,61.45 L403.96,61.79 L404.70,62.14 L405.43,62.49 L406.17,62.85 L406.90,63.20 L407.63,63.56 L408.37,63.93 L409.10,64.29 L409.84,64.66 L410.57,65.03 L411.31,65.40 L412.04,65.78 L412.77,66.16 L413.51,66.54 L414.24,66.92 L414.98,67.31 L415.71,67.70 L416.44,68.09 L417.18,68.48 L417.91,68.88 L418.65,69.28 L419.38,69.68 L420.12,70.08 L420.12,77.08 L419.38,76.69 L418.65,76.30 L417.91,75.91 L417.18,75.53 L416.44,75.15 L415.71,74.77 L414.98,74.39 L414.24,74.01 L413.51,73.64 L412.77,73.27 L412.04,72.90 L411.31,72.54 L410.57,72.18 L409.84,71.82 L409.10,71.46 L408.37,71.10 L407.63,70.75 L406.90,70.40 L406.17,70.06 L405.43,69.71 L404.70,69.37 L403.96,69.03 L403.23,68.70 L402.50,68.36 L401.76,68.03 L401.03,67.71 L400.29,67.38 L399.56,67.06 L398.82,66.74 L398.09,66.42 L397.36,66.11 L396.62,65.80 L395.89,65.50 L395.15,65.19 L394.42,64.89 L393.69,64.59 L392.95,64.30 L392.22,64.01 L391.48,63.72 L390.75,63.44 L390.02,63.15 L389.28,62.88 L388.55,62.60 L387.81,62.33 L387.08,62.06 L386.34,61.80 L385.61,61.54 L384.88,61.28 L384.14,61.03 L383.41,60.78 L382.67,60.54 L381.94,60.29 L381.21,60.06 L380.47,59.82 L379.74,59.59 L379.00,59.37 L378.27,59.14 L377.53,58.93 L376.80,58.71 L376.07,58.50 L375.33,58.30 L374.60,58.09 L373.86,57.90 L373.13,57.70 L372.40,57.52 L371.66,57.33 L370.93,57.15 L370.19,56.98 L369.46,56.81 L368.72,56.64 L367.99,56.48 L367.26,56.33 L366.52,56.17 L365.79,56.03 L365.05,55.89 L364.32,55.75 L363.59,55.62 L362.85,55.49 L362.12,55.37 L361.38,55.25 L360.65,55.14 L359.91,55.04 L359.18,54.93 L358.45,54.84 L357.71,54.75 L356.98,54.66 L356.24,54.58 L355.51,54.51 L354.78,54.44 L354.04,54.38 L353.31,54.32 L352.57,54.27 L351.84,54.22 L351.11,54.18 L350.37,54.14 L349.64,54.11 L348.90,54.09 L348.17,54.07 L347.43,54.06 L346.70,54.06 L345.97,54.05 L345.23,54.06 L344.50,54.07 L343.76,54.09 L343.03,54.11 L342.30,54.14 L341.56,54.18 L340.83,54.22 L340.09,54.27 L339.36,54.32 L338.62,54.38 L337.89,54.45 L337.16,54.52 L336.42,54.60 L335.69,54.69 L334.95,54.78 L334.22,54.87 L333.49,54.98 L332.75,55.09 L332.02,55.20 L331.28,55.32 L330.55,55.45 L329.81,55.59 L329.08,55.73 L328.35,55.87 L327.61,56.03 L326.88,56.18 L326.14,56.35 L325.41,56.52 L324.68,56.70 L323.94,56.88 L323.21,57.07 L322.47,57.26 L321.74,57.46 L321.00,57.67 L320.27,57.88 L319.54,58.10 L318.80,58.32 L318.07,58.55 L317.33,58.79 L316.60,59.03 L315.87,59.27 L315.13,59.53 L314.40,59.78 L313.66,60.05 L312.93,60.31 L312.20,60.59 L311.46,60.86 L310.73,61.15 L309.99,61.44 L309.26,61.73 L308.52,62.03 L307.79,62.33 L307.06,62.63 L306.32,62.95 L305.59,63.26 L304.85,63.58 L304.12,63.90 L303.39,64.23 L302.65,64.56 L301.92,64.90 L301.18,65.24 L300.45,65.58 L299.71,65.93 L298.98,66.28 L298.25,66.63 L297.51,66.98 L296.78,67.34 L296.04,67.70 L295.31,68.07 L294.58,68.43 L293.84,68.80 L293.11,69.17 L292.37,69.54 L291.64,69.91 L290.90,70.28 L290.17,70.66 L289.44,71.03 L288.70,71.41 L287.97,71.79 L287.23,72.16 L286.50,72.54 L285.77,72.91 L285.03,73.29 L284.30,73.67 L283.56,74.04 L282.83,74.41 L282.09,74.78 L281.36,75.15 L280.63,75.52 L279.89,75.89 L279.16,76.25 L278.42,76.61 L277.69,76.96 L276.96,77.32 L276.22,77.67 L275.49,78.01 L274.75,78.35 L274.02,78.69Z" fill="#eeb1a9" stroke="none"/>
<path d="M274.02,75.19 L274.75,74.84 L275.49,74.50 L276.22,74.15 L276.96,73.79 L277.69,73.44 L278.42,73.07 L279.16,72.71 L279.89,72.34 L280.63,71.97 L281.36,71.60 L282.09,71.22 L282.83,70.84 L283.56,70.47 L284.30,70.09 L285.03,69.71 L285.77,69.33 L286.50,68.94 L287.23,68.56 L287.97,68.18 L288.70,67.80 L289.44,67.42 L290.17,67.04 L290.90,66.66 L291.64,66.28 L292.37,65.91 L293.11,65.53 L293.84,65.16 L294.58,64.79 L295.31,64.42 L296.04,64.05 L296.78,63.69 L297.51,63.32 L298.25,62.97 L298.98,62.61 L299.71,62.26 L300.45,61.91 L301.18,61.56 L301.92,61.22 L302.65,60.88 L303.39,60.54 L304.12,60.21 L304.85,59.88 L305.59,59.56 L306.32,59.24 L307.06,58.93 L307.79,58.62 L308.52,58.31 L309.26,58.01 L309.99,57.72 L310.73,57.42 L311.46,57.14 L312.20,56.86 L312.93,56.58 L313.66,56.31 L314.40,56.05 L315.13,55.79 L315.87,55.53 L316.60,55.28 L317.33,55.04 L318.07,54.80 L318.80,54.57 L319.54,54.35 L320.27,54.13 L321.00,53.91 L321.74,53.70 L322.47,53.50 L323.21,53.30 L323.94,53.11 L324.68,52.93 L325.41,52.75 L326.14,52.58 L326.88,52.41 L327.61,52.25 L328.35,52.10 L329.08,51.95 L329.81,51.81 L330.55,51.67 L331.28,51.54 L332.02,51.42 L332.75,51.30 L333.49,51.19 L334.22,51.09 L334.95,50.99 L335.69,50.90 L336.42,50.81 L337.16,50.73 L337.89,50.66 L338.62,50.59 L339.36,50.53 L340.09,50.47 L340.83,50.43 L341.56,50.38 L342.30,50.35 L343.03,50.32 L343.76,50.29 L344.50,50.27 L345.23,50.26 L345.97,50.26 L346.70,50.26 L347.43,50.26 L348.17,50.27 L348.90,50.29 L349.64,50.31 L350.37,50.34 L351.11,50.38 L351.84,50.42 L352.57,50.47 L353.31,50.52 L354.04,50.58 L354.78,50.64 L355.51,50.71 L356.24,50.78 L356.98,50.87 L357.71,50.95 L358.45,51.04 L359.18,51.14 L359.91,51.24 L360.65,51.35 L361.38,51.46 L362.12,51.58 L362.85,51.70 L363.59,51.83 L364.32,51.96 L365.05,52.10 L365.79,52.24 L366.52,52.39 L367.26,52.54 L367.99,52.70 L368.72,52.86 L369.46,53.03 L370.19,53.20 L370.93,53.38 L371.66,53.56 L372.40,53.75 L373.13,53.94 L373.86,54.13 L374.60,54.33 L375.33,54.54 L376.07,54.74 L376.80,54.96 L377.53,55.17 L378.27,55.39 L379.00,55.62 L379.74,55.85 L380.47,56.08 L381.21,56.32 L381.94,56.56 L382.67,56.80 L383.41,57.05 L384.14,57.30 L384.88,57.56 L385.61,57.82 L386.34,58.08 L387.08,58.35 L387.81,58.62 L388.55,58.90 L389.28,59.17 L390.02,59.45 L390.75,59.74 L391.48,60.03 L392.22,60.32 L392.95,60.61 L393.69,60.91 L394.42,61.21 L395.15,61.52 L395.89,61.83 L396.62,62.14 L397.36,62.45 L398.09,62.77 L398.82,63.09 L399.56,63.41 L400.29,63.74 L401.03,64.07 L401.76,64.40 L402.50,64.74 L403.23,65.07 L403.96,65.41 L404.70,65.76 L405.43,66.10 L406.17,66.45 L406.90,66.80 L407.63,67.16 L408.37,67.52 L409.10,67.88 L409.84,68.24 L410.57,68.60 L411.31,68.97 L412.04,69.34 L412.77,69.71 L413.51,70.09 L414.24,70.47 L414.98,70.85 L415.71,71.23 L416.44,71.62 L417.18,72.01 L417.91,72.40 L418.65,72.79 L419.38,73.18 L420.12,73.58" fill="none" stroke="#a55a57" stroke-width="1.55" stroke-linejoin="round" stroke-linecap="square"/>
<rect x="265.8" y="32.1" width="171.30" height="111.15" fill="none" stroke="#000" stroke-width="1.15"/>
<path d="M308.62,32.1v3.4M308.62,143.25v-3.4M351.45,32.1v3.4M351.45,143.25v-3.4M394.27,32.1v3.4M394.27,143.25v-3.4M265.8,139.40h3.4M437.1,139.40h-3.4M265.8,120.20h3.4M437.1,120.20h-3.4M265.8,101.00h3.4M437.1,101.00h-3.4M265.8,81.80h3.4M437.1,81.80h-3.4M265.8,62.60h3.4M437.1,62.60h-3.4M265.8,43.40h3.4M437.1,43.40h-3.4" stroke="#000" stroke-width="0.95" fill="none"/>
<text transform="translate(351.15,133.90) scale(1.04,1)" font-size="13.2" text-anchor="middle" ><tspan font-style="italic" font-size="14.2">σ</tspan> = 20</text>
<path d="M470.67,111.57 L471.45,111.24 L472.23,110.88 L473.01,110.49 L473.79,110.09 L474.57,109.66 L475.34,109.21 L476.12,108.75 L476.90,108.27 L477.68,107.78 L478.46,107.28 L479.23,106.77 L480.01,106.25 L480.79,105.73 L481.57,105.19 L482.35,104.66 L483.12,104.11 L483.90,103.57 L484.68,103.02 L485.46,102.47 L486.24,101.92 L487.01,101.37 L487.79,100.81 L488.57,100.26 L489.35,99.71 L490.13,99.16 L490.90,98.61 L491.68,98.07 L492.46,97.52 L493.24,96.98 L494.02,96.45 L494.80,95.91 L495.57,95.38 L496.35,94.85 L497.13,94.33 L497.91,93.81 L498.69,93.29 L499.46,92.78 L500.24,92.27 L501.02,91.77 L501.80,91.27 L502.58,90.78 L503.35,90.29 L504.13,89.81 L504.91,89.33 L505.69,88.86 L506.47,88.39 L507.24,87.93 L508.02,87.47 L508.80,87.02 L509.58,86.57 L510.36,86.13 L511.13,85.70 L511.91,85.27 L512.69,84.85 L513.47,84.43 L514.25,84.03 L515.03,83.62 L515.80,83.23 L516.58,82.84 L517.36,82.46 L518.14,82.08 L518.92,81.71 L519.69,81.35 L520.47,81.00 L521.25,80.65 L522.03,80.32 L522.81,79.99 L523.58,79.67 L524.36,79.36 L525.14,79.05 L525.92,78.76 L526.70,78.47 L527.47,78.19 L528.25,77.92 L529.03,77.67 L529.81,77.42 L530.59,77.18 L531.36,76.95 L532.14,76.73 L532.92,76.52 L533.70,76.32 L534.48,76.13 L535.26,75.96 L536.03,75.79 L536.81,75.63 L537.59,75.49 L538.37,75.36 L539.15,75.24 L539.92,75.13 L540.70,75.03 L541.48,74.94 L542.26,74.87 L543.04,74.80 L543.81,74.75 L544.59,74.71 L545.37,74.69 L546.15,74.67 L546.93,74.67 L547.70,74.68 L548.48,74.70 L549.26,74.74 L550.04,74.79 L550.82,74.85 L551.59,74.92 L552.37,75.00 L553.15,75.10 L553.93,75.21 L554.71,75.33 L555.49,75.46 L556.26,75.61 L557.04,75.76 L557.82,75.93 L558.60,76.11 L559.38,76.31 L560.15,76.51 L560.93,76.73 L561.71,76.95 L562.49,77.19 L563.27,77.44 L564.04,77.70 L564.82,77.97 L565.60,78.25 L566.38,78.54 L567.16,78.84 L567.93,79.15 L568.71,79.47 L569.49,79.80 L570.27,80.14 L571.05,80.48 L571.82,80.84 L572.60,81.20 L573.38,81.58 L574.16,81.96 L574.94,82.34 L575.72,82.74 L576.49,83.14 L577.27,83.55 L578.05,83.97 L578.83,84.39 L579.61,84.82 L580.38,85.26 L581.16,85.70 L581.94,86.14 L582.72,86.59 L583.50,87.05 L584.27,87.51 L585.05,87.98 L585.83,88.45 L586.61,88.92 L587.39,89.40 L588.16,89.88 L588.94,90.36 L589.72,90.85 L590.50,91.34 L591.28,91.83 L592.05,92.33 L592.83,92.83 L593.61,93.33 L594.39,93.83 L595.17,94.33 L595.95,94.84 L596.72,95.35 L597.50,95.86 L598.28,96.37 L599.06,96.88 L599.84,97.39 L600.61,97.90 L601.39,98.42 L602.17,98.93 L602.95,99.45 L603.73,99.96 L604.50,100.48 L605.28,100.99 L606.06,101.51 L606.84,102.03 L607.62,102.55 L608.39,103.06 L609.17,103.58 L609.95,104.09 L610.73,104.61 L611.51,105.13 L612.28,105.64 L613.06,106.16 L613.84,106.67 L614.62,107.18 L615.40,107.69 L616.18,108.20 L616.95,108.71 L617.73,109.21 L618.51,109.72 L619.29,110.22 L620.07,110.72 L620.84,111.21 L621.62,111.70 L622.40,112.19 L623.18,112.67 L623.96,113.15 L624.73,113.62 L625.51,114.08 L625.51,117.88 L624.73,117.42 L623.96,116.95 L623.18,116.47 L622.40,115.99 L621.62,115.50 L620.84,115.01 L620.07,114.52 L619.29,114.02 L618.51,113.52 L617.73,113.01 L616.95,112.51 L616.18,112.00 L615.40,111.49 L614.62,110.98 L613.84,110.47 L613.06,109.96 L612.28,109.44 L611.51,108.93 L610.73,108.41 L609.95,107.89 L609.17,107.38 L608.39,106.86 L607.62,106.35 L606.84,105.83 L606.06,105.31 L605.28,104.79 L604.50,104.28 L603.73,103.76 L602.95,103.25 L602.17,102.73 L601.39,102.22 L600.61,101.70 L599.84,101.19 L599.06,100.68 L598.28,100.17 L597.50,99.66 L596.72,99.15 L595.95,98.64 L595.17,98.13 L594.39,97.63 L593.61,97.13 L592.83,96.63 L592.05,96.13 L591.28,95.63 L590.50,95.14 L589.72,94.65 L588.94,94.16 L588.16,93.68 L587.39,93.20 L586.61,92.72 L585.83,92.25 L585.05,91.78 L584.27,91.31 L583.50,90.85 L582.72,90.39 L581.94,89.94 L581.16,89.50 L580.38,89.06 L579.61,88.62 L578.83,88.19 L578.05,87.77 L577.27,87.35 L576.49,86.94 L575.72,86.54 L574.94,86.14 L574.16,85.76 L573.38,85.38 L572.60,85.00 L571.82,84.64 L571.05,84.28 L570.27,83.94 L569.49,83.60 L568.71,83.27 L567.93,82.95 L567.16,82.64 L566.38,82.34 L565.60,82.05 L564.82,81.77 L564.04,81.50 L563.27,81.24 L562.49,80.99 L561.71,80.75 L560.93,80.53 L560.15,80.31 L559.38,80.11 L558.60,79.91 L557.82,79.73 L557.04,79.56 L556.26,79.41 L555.49,79.26 L554.71,79.13 L553.93,79.01 L553.15,78.90 L552.37,78.80 L551.59,78.72 L550.82,78.65 L550.04,78.59 L549.26,78.54 L548.48,78.50 L547.70,78.48 L546.93,78.47 L546.15,78.47 L545.37,78.49 L544.59,78.51 L543.81,78.55 L543.04,78.60 L542.26,78.67 L541.48,78.74 L540.70,78.83 L539.92,78.93 L539.15,79.04 L538.37,79.16 L537.59,79.29 L536.81,79.43 L536.03,79.59 L535.26,79.76 L534.48,79.93 L533.70,80.12 L532.92,80.32 L532.14,80.53 L531.36,80.75 L530.59,80.98 L529.81,81.22 L529.03,81.47 L528.25,81.72 L527.47,81.99 L526.70,82.27 L525.92,82.56 L525.14,82.85 L524.36,83.16 L523.58,83.47 L522.81,83.79 L522.03,84.12 L521.25,84.45 L520.47,84.80 L519.69,85.15 L518.92,85.51 L518.14,85.88 L517.36,86.26 L516.58,86.64 L515.80,87.03 L515.03,87.42 L514.25,87.83 L513.47,88.23 L512.69,88.65 L511.91,89.07 L511.13,89.50 L510.36,89.93 L509.58,90.37 L508.80,90.82 L508.02,91.27 L507.24,91.73 L506.47,92.19 L505.69,92.66 L504.91,93.13 L504.13,93.61 L503.35,94.09 L502.58,94.58 L501.80,95.07 L501.02,95.57 L500.24,96.07 L499.46,96.58 L498.69,97.09 L497.91,97.61 L497.13,98.13 L496.35,98.65 L495.57,99.18 L494.80,99.71 L494.02,100.25 L493.24,100.78 L492.46,101.32 L491.68,101.87 L490.90,102.41 L490.13,102.96 L489.35,103.51 L488.57,104.06 L487.79,104.61 L487.01,105.17 L486.24,105.72 L485.46,106.27 L484.68,106.82 L483.90,107.37 L483.12,107.91 L482.35,108.46 L481.57,108.99 L480.79,109.53 L480.01,110.05 L479.23,110.57 L478.46,111.08 L477.68,111.58 L476.90,112.07 L476.12,112.55 L475.34,113.01 L474.57,113.46 L473.79,113.89 L473.01,114.29 L472.23,114.68 L471.45,115.04 L470.67,115.37Z" fill="#dddddd" stroke="none"/>
<path d="M470.67,113.47 L471.45,113.14 L472.23,112.78 L473.01,112.39 L473.79,111.99 L474.57,111.56 L475.34,111.11 L476.12,110.65 L476.90,110.17 L477.68,109.68 L478.46,109.18 L479.23,108.67 L480.01,108.15 L480.79,107.63 L481.57,107.09 L482.35,106.56 L483.12,106.01 L483.90,105.47 L484.68,104.92 L485.46,104.37 L486.24,103.82 L487.01,103.27 L487.79,102.71 L488.57,102.16 L489.35,101.61 L490.13,101.06 L490.90,100.51 L491.68,99.97 L492.46,99.42 L493.24,98.88 L494.02,98.35 L494.80,97.81 L495.57,97.28 L496.35,96.75 L497.13,96.23 L497.91,95.71 L498.69,95.19 L499.46,94.68 L500.24,94.17 L501.02,93.67 L501.80,93.17 L502.58,92.68 L503.35,92.19 L504.13,91.71 L504.91,91.23 L505.69,90.76 L506.47,90.29 L507.24,89.83 L508.02,89.37 L508.80,88.92 L509.58,88.47 L510.36,88.03 L511.13,87.60 L511.91,87.17 L512.69,86.75 L513.47,86.33 L514.25,85.93 L515.03,85.52 L515.80,85.13 L516.58,84.74 L517.36,84.36 L518.14,83.98 L518.92,83.61 L519.69,83.25 L520.47,82.90 L521.25,82.55 L522.03,82.22 L522.81,81.89 L523.58,81.57 L524.36,81.26 L525.14,80.95 L525.92,80.66 L526.70,80.37 L527.47,80.09 L528.25,79.82 L529.03,79.57 L529.81,79.32 L530.59,79.08 L531.36,78.85 L532.14,78.63 L532.92,78.42 L533.70,78.22 L534.48,78.03 L535.26,77.86 L536.03,77.69 L536.81,77.53 L537.59,77.39 L538.37,77.26 L539.15,77.14 L539.92,77.03 L540.70,76.93 L541.48,76.84 L542.26,76.77 L543.04,76.70 L543.81,76.65 L544.59,76.61 L545.37,76.59 L546.15,76.57 L546.93,76.57 L547.70,76.58 L548.48,76.60 L549.26,76.64 L550.04,76.69 L550.82,76.75 L551.59,76.82 L552.37,76.90 L553.15,77.00 L553.93,77.11 L554.71,77.23 L555.49,77.36 L556.26,77.51 L557.04,77.66 L557.82,77.83 L558.60,78.01 L559.38,78.21 L560.15,78.41 L560.93,78.63 L561.71,78.85 L562.49,79.09 L563.27,79.34 L564.04,79.60 L564.82,79.87 L565.60,80.15 L566.38,80.44 L567.16,80.74 L567.93,81.05 L568.71,81.37 L569.49,81.70 L570.27,82.04 L571.05,82.38 L571.82,82.74 L572.60,83.10 L573.38,83.48 L574.16,83.86 L574.94,84.24 L575.72,84.64 L576.49,85.04 L577.27,85.45 L578.05,85.87 L578.83,86.29 L579.61,86.72 L580.38,87.16 L581.16,87.60 L581.94,88.04 L582.72,88.49 L583.50,88.95 L584.27,89.41 L585.05,89.88 L585.83,90.35 L586.61,90.82 L587.39,91.30 L588.16,91.78 L588.94,92.26 L589.72,92.75 L590.50,93.24 L591.28,93.73 L592.05,94.23 L592.83,94.73 L593.61,95.23 L594.39,95.73 L595.17,96.23 L595.95,96.74 L596.72,97.25 L597.50,97.76 L598.28,98.27 L599.06,98.78 L599.84,99.29 L600.61,99.80 L601.39,100.32 L602.17,100.83 L602.95,101.35 L603.73,101.86 L604.50,102.38 L605.28,102.89 L606.06,103.41 L606.84,103.93 L607.62,104.45 L608.39,104.96 L609.17,105.48 L609.95,105.99 L610.73,106.51 L611.51,107.03 L612.28,107.54 L613.06,108.06 L613.84,108.57 L614.62,109.08 L615.40,109.59 L616.18,110.10 L616.95,110.61 L617.73,111.11 L618.51,111.62 L619.29,112.12 L620.07,112.62 L620.84,113.11 L621.62,113.60 L622.40,114.09 L623.18,114.57 L623.96,115.05 L624.73,115.52 L625.51,115.98" fill="none" stroke="#767676" stroke-width="1.55" stroke-linejoin="round" stroke-linecap="square"/>
<path d="M470.67,108.28 L471.41,107.71 L472.14,107.14 L472.87,106.58 L473.61,106.02 L474.34,105.46 L475.07,104.90 L475.81,104.34 L476.54,103.79 L477.27,103.23 L478.01,102.67 L478.74,102.11 L479.47,101.55 L480.20,100.99 L480.94,100.42 L481.67,99.85 L482.40,99.28 L483.14,98.71 L483.87,98.13 L484.60,97.55 L485.34,96.97 L486.07,96.38 L486.80,95.79 L487.54,95.20 L488.27,94.60 L489.00,94.00 L489.73,93.40 L490.47,92.79 L491.20,92.18 L491.93,91.57 L492.67,90.95 L493.40,90.34 L494.13,89.72 L494.87,89.09 L495.60,88.47 L496.33,87.84 L497.06,87.21 L497.80,86.58 L498.53,85.95 L499.26,85.32 L500.00,84.68 L500.73,84.05 L501.46,83.42 L502.20,82.78 L502.93,82.15 L503.66,81.52 L504.40,80.89 L505.13,80.26 L505.86,79.64 L506.59,79.01 L507.33,78.39 L508.06,77.78 L508.79,77.17 L509.53,76.56 L510.26,75.96 L510.99,75.36 L511.73,74.77 L512.46,74.19 L513.19,73.61 L513.92,73.04 L514.66,72.48 L515.39,71.92 L516.12,71.38 L516.86,70.84 L517.59,70.31 L518.32,69.79 L519.06,69.28 L519.79,68.78 L520.52,68.30 L521.26,67.82 L521.99,67.35 L522.72,66.89 L523.45,66.44 L524.19,66.00 L524.92,65.57 L525.65,65.16 L526.39,64.75 L527.12,64.36 L527.85,63.98 L528.59,63.62 L529.32,63.26 L530.05,62.92 L530.79,62.59 L531.52,62.28 L532.25,61.98 L532.98,61.70 L533.72,61.43 L534.45,61.17 L535.18,60.93 L535.92,60.70 L536.65,60.49 L537.38,60.30 L538.12,60.12 L538.85,59.96 L539.58,59.81 L540.31,59.68 L541.05,59.57 L541.78,59.47 L542.51,59.39 L543.25,59.32 L543.98,59.27 L544.71,59.24 L545.45,59.23 L546.18,59.23 L546.91,59.25 L547.65,59.29 L548.38,59.34 L549.11,59.41 L549.84,59.50 L550.58,59.60 L551.31,59.72 L552.04,59.85 L552.78,60.00 L553.51,60.17 L554.24,60.35 L554.98,60.55 L555.71,60.76 L556.44,60.99 L557.18,61.23 L557.91,61.49 L558.64,61.76 L559.37,62.04 L560.11,62.34 L560.84,62.65 L561.57,62.97 L562.31,63.31 L563.04,63.66 L563.77,64.02 L564.51,64.40 L565.24,64.79 L565.97,65.18 L566.70,65.59 L567.44,66.01 L568.17,66.44 L568.90,66.88 L569.64,67.34 L570.37,67.80 L571.10,68.27 L571.84,68.75 L572.57,69.23 L573.30,69.73 L574.04,70.23 L574.77,70.75 L575.50,71.27 L576.23,71.80 L576.97,72.33 L577.70,72.88 L578.43,73.43 L579.17,73.99 L579.90,74.56 L580.63,75.13 L581.37,75.71 L582.10,76.30 L582.83,76.89 L583.57,77.49 L584.30,78.09 L585.03,78.70 L585.76,79.31 L586.50,79.93 L587.23,80.55 L587.96,81.18 L588.70,81.81 L589.43,82.44 L590.16,83.07 L590.90,83.71 L591.63,84.35 L592.36,84.99 L593.09,85.64 L593.83,86.28 L594.56,86.93 L595.29,87.58 L596.03,88.23 L596.76,88.88 L597.49,89.53 L598.23,90.18 L598.96,90.83 L599.69,91.48 L600.43,92.13 L601.16,92.77 L601.89,93.42 L602.62,94.07 L603.36,94.71 L604.09,95.35 L604.82,96.00 L605.56,96.64 L606.29,97.27 L607.02,97.91 L607.76,98.54 L608.49,99.17 L609.22,99.79 L609.95,100.42 L610.69,101.04 L611.42,101.65 L612.15,102.26 L612.89,102.87 L613.62,103.47 L614.35,104.07 L615.09,104.67 L615.82,105.26 L616.55,105.84 L616.55,108.27 L615.82,107.73 L615.09,107.20 L614.35,106.65 L613.62,106.10 L612.89,105.55 L612.15,104.99 L611.42,104.43 L610.69,103.87 L609.95,103.30 L609.22,102.73 L608.49,102.15 L607.76,101.57 L607.02,100.99 L606.29,100.41 L605.56,99.83 L604.82,99.24 L604.09,98.65 L603.36,98.06 L602.62,97.47 L601.89,96.88 L601.16,96.29 L600.43,95.70 L599.69,95.10 L598.96,94.51 L598.23,93.91 L597.49,93.32 L596.76,92.73 L596.03,92.14 L595.29,91.55 L594.56,90.96 L593.83,90.37 L593.09,89.79 L592.36,89.21 L591.63,88.63 L590.90,88.05 L590.16,87.47 L589.43,86.90 L588.70,86.33 L587.96,85.76 L587.23,85.20 L586.50,84.64 L585.76,84.08 L585.03,83.53 L584.30,82.98 L583.57,82.44 L582.83,81.90 L582.10,81.37 L581.37,80.84 L580.63,80.32 L579.90,79.80 L579.17,79.29 L578.43,78.79 L577.70,78.29 L576.97,77.80 L576.23,77.31 L575.50,76.83 L574.77,76.36 L574.04,75.90 L573.30,75.45 L572.57,75.00 L571.84,74.57 L571.10,74.14 L570.37,73.73 L569.64,73.32 L568.90,72.93 L568.17,72.54 L567.44,72.17 L566.70,71.81 L565.97,71.45 L565.24,71.11 L564.51,70.78 L563.77,70.46 L563.04,70.15 L562.31,69.85 L561.57,69.57 L560.84,69.30 L560.11,69.03 L559.37,68.78 L558.64,68.55 L557.91,68.32 L557.18,68.11 L556.44,67.91 L555.71,67.72 L554.98,67.54 L554.24,67.38 L553.51,67.23 L552.78,67.09 L552.04,66.97 L551.31,66.85 L550.58,66.75 L549.84,66.67 L549.11,66.59 L548.38,66.53 L547.65,66.49 L546.91,66.45 L546.18,66.43 L545.45,66.42 L544.71,66.42 L543.98,66.44 L543.25,66.47 L542.51,66.51 L541.78,66.57 L541.05,66.64 L540.31,66.72 L539.58,66.82 L538.85,66.93 L538.12,67.05 L537.38,67.19 L536.65,67.34 L535.92,67.50 L535.18,67.68 L534.45,67.87 L533.72,68.07 L532.98,68.29 L532.25,68.52 L531.52,68.76 L530.79,69.02 L530.05,69.29 L529.32,69.57 L528.59,69.87 L527.85,70.18 L527.12,70.50 L526.39,70.83 L525.65,71.18 L524.92,71.54 L524.19,71.91 L523.45,72.29 L522.72,72.68 L521.99,73.09 L521.26,73.51 L520.52,73.93 L519.79,74.37 L519.06,74.82 L518.32,75.27 L517.59,75.74 L516.86,76.21 L516.12,76.69 L515.39,77.18 L514.66,77.67 L513.92,78.17 L513.19,78.68 L512.46,79.20 L511.73,79.72 L510.99,80.24 L510.26,80.78 L509.53,81.31 L508.79,81.86 L508.06,82.40 L507.33,82.95 L506.59,83.51 L505.86,84.07 L505.13,84.63 L504.40,85.19 L503.66,85.76 L502.93,86.33 L502.20,86.90 L501.46,87.48 L500.73,88.05 L500.00,88.63 L499.26,89.21 L498.53,89.79 L497.80,90.37 L497.06,90.95 L496.33,91.53 L495.60,92.11 L494.87,92.69 L494.13,93.26 L493.40,93.84 L492.67,94.41 L491.93,94.99 L491.20,95.56 L490.47,96.13 L489.73,96.69 L489.00,97.25 L488.27,97.81 L487.54,98.37 L486.80,98.93 L486.07,99.48 L485.34,100.02 L484.60,100.57 L483.87,101.11 L483.14,101.65 L482.40,102.19 L481.67,102.73 L480.94,103.26 L480.20,103.79 L479.47,104.32 L478.74,104.85 L478.01,105.38 L477.27,105.90 L476.54,106.43 L475.81,106.96 L475.07,107.48 L474.34,108.01 L473.61,108.54 L472.87,109.08 L472.14,109.61 L471.41,110.15 L470.67,110.70Z" fill="#eeb1a9" stroke="none"/>
<path d="M470.67,109.49 L471.41,108.93 L472.14,108.38 L472.87,107.83 L473.61,107.28 L474.34,106.73 L475.07,106.19 L475.81,105.65 L476.54,105.11 L477.27,104.57 L478.01,104.02 L478.74,103.48 L479.47,102.94 L480.20,102.39 L480.94,101.84 L481.67,101.29 L482.40,100.74 L483.14,100.18 L483.87,99.62 L484.60,99.06 L485.34,98.50 L486.07,97.93 L486.80,97.36 L487.54,96.78 L488.27,96.21 L489.00,95.63 L489.73,95.04 L490.47,94.46 L491.20,93.87 L491.93,93.28 L492.67,92.68 L493.40,92.09 L494.13,91.49 L494.87,90.89 L495.60,90.29 L496.33,89.68 L497.06,89.08 L497.80,88.47 L498.53,87.87 L499.26,87.26 L500.00,86.66 L500.73,86.05 L501.46,85.45 L502.20,84.84 L502.93,84.24 L503.66,83.64 L504.40,83.04 L505.13,82.44 L505.86,81.85 L506.59,81.26 L507.33,80.67 L508.06,80.09 L508.79,79.51 L509.53,78.94 L510.26,78.37 L510.99,77.80 L511.73,77.25 L512.46,76.69 L513.19,76.15 L513.92,75.61 L514.66,75.08 L515.39,74.55 L516.12,74.03 L516.86,73.53 L517.59,73.02 L518.32,72.53 L519.06,72.05 L519.79,71.58 L520.52,71.11 L521.26,70.66 L521.99,70.22 L522.72,69.79 L523.45,69.36 L524.19,68.95 L524.92,68.56 L525.65,68.17 L526.39,67.79 L527.12,67.43 L527.85,67.08 L528.59,66.74 L529.32,66.42 L530.05,66.11 L530.79,65.81 L531.52,65.52 L532.25,65.25 L532.98,64.99 L533.72,64.75 L534.45,64.52 L535.18,64.30 L535.92,64.10 L536.65,63.92 L537.38,63.74 L538.12,63.59 L538.85,63.44 L539.58,63.31 L540.31,63.20 L541.05,63.10 L541.78,63.02 L542.51,62.95 L543.25,62.90 L543.98,62.86 L544.71,62.83 L545.45,62.82 L546.18,62.83 L546.91,62.85 L547.65,62.89 L548.38,62.94 L549.11,63.00 L549.84,63.08 L550.58,63.18 L551.31,63.29 L552.04,63.41 L552.78,63.55 L553.51,63.70 L554.24,63.87 L554.98,64.05 L555.71,64.24 L556.44,64.45 L557.18,64.67 L557.91,64.90 L558.64,65.15 L559.37,65.41 L560.11,65.69 L560.84,65.97 L561.57,66.27 L562.31,66.58 L563.04,66.91 L563.77,67.24 L564.51,67.59 L565.24,67.95 L565.97,68.32 L566.70,68.70 L567.44,69.09 L568.17,69.49 L568.90,69.91 L569.64,70.33 L570.37,70.76 L571.10,71.21 L571.84,71.66 L572.57,72.12 L573.30,72.59 L574.04,73.07 L574.77,73.56 L575.50,74.05 L576.23,74.55 L576.97,75.06 L577.70,75.58 L578.43,76.11 L579.17,76.64 L579.90,77.18 L580.63,77.72 L581.37,78.28 L582.10,78.83 L582.83,79.40 L583.57,79.96 L584.30,80.54 L585.03,81.12 L585.76,81.70 L586.50,82.28 L587.23,82.87 L587.96,83.47 L588.70,84.07 L589.43,84.67 L590.16,85.27 L590.90,85.88 L591.63,86.49 L592.36,87.10 L593.09,87.71 L593.83,88.33 L594.56,88.95 L595.29,89.57 L596.03,90.18 L596.76,90.80 L597.49,91.43 L598.23,92.05 L598.96,92.67 L599.69,93.29 L600.43,93.91 L601.16,94.53 L601.89,95.15 L602.62,95.77 L603.36,96.39 L604.09,97.00 L604.82,97.62 L605.56,98.23 L606.29,98.84 L607.02,99.45 L607.76,100.06 L608.49,100.66 L609.22,101.26 L609.95,101.86 L610.69,102.45 L611.42,103.04 L612.15,103.63 L612.89,104.21 L613.62,104.79 L614.35,105.36 L615.09,105.93 L615.82,106.50 L616.55,107.05" fill="none" stroke="#a55a57" stroke-width="1.55" stroke-linejoin="round" stroke-linecap="square"/>
<rect x="462.3" y="32.1" width="171.30" height="111.15" fill="none" stroke="#000" stroke-width="1.15"/>
<path d="M505.12,32.1v3.4M505.12,143.25v-3.4M547.95,32.1v3.4M547.95,143.25v-3.4M590.77,32.1v3.4M590.77,143.25v-3.4M462.3,139.40h3.4M633.6,139.40h-3.4M462.3,120.20h3.4M633.6,120.20h-3.4M462.3,101.00h3.4M633.6,101.00h-3.4M462.3,81.80h3.4M633.6,81.80h-3.4M462.3,62.60h3.4M633.6,62.60h-3.4M462.3,43.40h3.4M633.6,43.40h-3.4" stroke="#000" stroke-width="0.95" fill="none"/>
<text transform="translate(547.65,133.90) scale(1.04,1)" font-size="13.2" text-anchor="middle" ><tspan font-style="italic" font-size="14.2">σ</tspan> = 10</text>
<path d="M77.36,247.60 L78.14,247.19 L78.92,246.70 L79.69,246.14 L80.47,245.51 L81.25,244.83 L82.02,244.11 L82.80,243.34 L83.58,242.53 L84.35,241.70 L85.13,240.83 L85.91,239.95 L86.69,239.04 L87.46,238.12 L88.24,237.18 L89.02,236.23 L89.79,235.27 L90.57,234.30 L91.35,233.32 L92.12,232.34 L92.90,231.36 L93.68,230.38 L94.45,229.39 L95.23,228.40 L96.01,227.42 L96.78,226.43 L97.56,225.45 L98.34,224.47 L99.11,223.49 L99.89,222.52 L100.67,221.56 L101.44,220.60 L102.22,219.64 L103.00,218.69 L103.78,217.76 L104.55,216.83 L105.33,215.90 L106.11,214.99 L106.88,214.09 L107.66,213.20 L108.44,212.32 L109.21,211.45 L109.99,210.60 L110.77,209.76 L111.54,208.93 L112.32,208.12 L113.10,207.32 L113.87,206.54 L114.65,205.78 L115.43,205.03 L116.20,204.29 L116.98,203.58 L117.76,202.88 L118.53,202.20 L119.31,201.54 L120.09,200.90 L120.87,200.28 L121.64,199.68 L122.42,199.10 L123.20,198.53 L123.97,197.99 L124.75,197.47 L125.53,196.96 L126.30,196.48 L127.08,196.02 L127.86,195.58 L128.63,195.16 L129.41,194.75 L130.19,194.37 L130.96,194.01 L131.74,193.67 L132.52,193.34 L133.29,193.04 L134.07,192.75 L134.85,192.49 L135.62,192.24 L136.40,192.01 L137.18,191.80 L137.96,191.60 L138.73,191.42 L139.51,191.26 L140.29,191.11 L141.06,190.98 L141.84,190.87 L142.62,190.77 L143.39,190.68 L144.17,190.61 L144.95,190.56 L145.72,190.51 L146.50,190.48 L147.28,190.46 L148.05,190.46 L148.83,190.47 L149.61,190.49 L150.38,190.52 L151.16,190.56 L151.94,190.62 L152.71,190.69 L153.49,190.76 L154.27,190.85 L155.04,190.95 L155.82,191.06 L156.60,191.18 L157.38,191.31 L158.15,191.46 L158.93,191.61 L159.71,191.77 L160.48,191.95 L161.26,192.13 L162.04,192.33 L162.81,192.54 L163.59,192.76 L164.37,192.99 L165.14,193.23 L165.92,193.48 L166.70,193.75 L167.47,194.03 L168.25,194.32 L169.03,194.63 L169.80,194.95 L170.58,195.28 L171.36,195.62 L172.13,195.98 L172.91,196.36 L173.69,196.75 L174.47,197.15 L175.24,197.57 L176.02,198.00 L176.80,198.45 L177.57,198.91 L178.35,199.39 L179.13,199.89 L179.90,200.40 L180.68,200.93 L181.46,201.47 L182.23,202.03 L183.01,202.60 L183.79,203.19 L184.56,203.80 L185.34,204.42 L186.12,205.06 L186.89,205.71 L187.67,206.37 L188.45,207.05 L189.22,207.75 L190.00,208.45 L190.78,209.17 L191.56,209.90 L192.33,210.65 L193.11,211.40 L193.89,212.17 L194.66,212.94 L195.44,213.72 L196.22,214.52 L196.99,215.31 L197.77,216.12 L198.55,216.93 L199.32,217.75 L200.10,218.57 L200.88,219.39 L201.65,220.21 L202.43,221.04 L203.21,221.87 L203.98,222.69 L204.76,223.52 L205.54,224.34 L206.31,225.16 L207.09,225.97 L207.87,226.78 L208.64,227.59 L209.42,228.39 L210.20,229.18 L210.98,229.96 L211.75,230.74 L212.53,231.51 L213.31,232.27 L214.08,233.02 L214.86,233.77 L215.64,234.50 L216.41,235.22 L217.19,235.94 L217.97,236.65 L218.74,237.35 L219.52,238.04 L220.30,238.72 L221.07,239.40 L221.85,240.07 L222.63,240.73 L223.40,241.39 L224.18,242.05 L224.96,242.70 L225.73,243.35 L226.51,244.00 L227.29,244.65 L228.07,245.30 L228.84,245.95 L229.62,246.60 L230.40,247.25 L231.17,247.91 L231.95,248.57 L231.95,252.37 L231.17,251.71 L230.40,251.05 L229.62,250.40 L228.84,249.75 L228.07,249.10 L227.29,248.45 L226.51,247.80 L225.73,247.15 L224.96,246.50 L224.18,245.85 L223.40,245.19 L222.63,244.53 L221.85,243.87 L221.07,243.20 L220.30,242.52 L219.52,241.84 L218.74,241.15 L217.97,240.45 L217.19,239.74 L216.41,239.02 L215.64,238.30 L214.86,237.57 L214.08,236.82 L213.31,236.07 L212.53,235.31 L211.75,234.54 L210.98,233.76 L210.20,232.98 L209.42,232.19 L208.64,231.39 L207.87,230.58 L207.09,229.77 L206.31,228.96 L205.54,228.14 L204.76,227.32 L203.98,226.49 L203.21,225.67 L202.43,224.84 L201.65,224.01 L200.88,223.19 L200.10,222.37 L199.32,221.55 L198.55,220.73 L197.77,219.92 L196.99,219.11 L196.22,218.32 L195.44,217.52 L194.66,216.74 L193.89,215.97 L193.11,215.20 L192.33,214.45 L191.56,213.70 L190.78,212.97 L190.00,212.25 L189.22,211.55 L188.45,210.85 L187.67,210.17 L186.89,209.51 L186.12,208.86 L185.34,208.22 L184.56,207.60 L183.79,206.99 L183.01,206.40 L182.23,205.83 L181.46,205.27 L180.68,204.73 L179.90,204.20 L179.13,203.69 L178.35,203.19 L177.57,202.71 L176.80,202.25 L176.02,201.80 L175.24,201.37 L174.47,200.95 L173.69,200.55 L172.91,200.16 L172.13,199.78 L171.36,199.42 L170.58,199.08 L169.80,198.75 L169.03,198.43 L168.25,198.12 L167.47,197.83 L166.70,197.55 L165.92,197.28 L165.14,197.03 L164.37,196.79 L163.59,196.56 L162.81,196.34 L162.04,196.13 L161.26,195.93 L160.48,195.75 L159.71,195.57 L158.93,195.41 L158.15,195.26 L157.38,195.11 L156.60,194.98 L155.82,194.86 L155.04,194.75 L154.27,194.65 L153.49,194.56 L152.71,194.49 L151.94,194.42 L151.16,194.36 L150.38,194.32 L149.61,194.29 L148.83,194.27 L148.05,194.26 L147.28,194.26 L146.50,194.28 L145.72,194.31 L144.95,194.36 L144.17,194.41 L143.39,194.48 L142.62,194.57 L141.84,194.67 L141.06,194.78 L140.29,194.91 L139.51,195.06 L138.73,195.22 L137.96,195.40 L137.18,195.60 L136.40,195.81 L135.62,196.04 L134.85,196.29 L134.07,196.55 L133.29,196.84 L132.52,197.14 L131.74,197.47 L130.96,197.81 L130.19,198.17 L129.41,198.55 L128.63,198.96 L127.86,199.38 L127.08,199.82 L126.30,200.28 L125.53,200.76 L124.75,201.27 L123.97,201.79 L123.20,202.33 L122.42,202.90 L121.64,203.48 L120.87,204.08 L120.09,204.70 L119.31,205.34 L118.53,206.00 L117.76,206.68 L116.98,207.38 L116.20,208.09 L115.43,208.83 L114.65,209.58 L113.87,210.34 L113.10,211.12 L112.32,211.92 L111.54,212.73 L110.77,213.56 L109.99,214.40 L109.21,215.25 L108.44,216.12 L107.66,217.00 L106.88,217.89 L106.11,218.79 L105.33,219.70 L104.55,220.63 L103.78,221.56 L103.00,222.49 L102.22,223.44 L101.44,224.40 L100.67,225.36 L99.89,226.32 L99.11,227.29 L98.34,228.27 L97.56,229.25 L96.78,230.23 L96.01,231.22 L95.23,232.20 L94.45,233.19 L93.68,234.18 L92.90,235.16 L92.12,236.14 L91.35,237.12 L90.57,238.10 L89.79,239.07 L89.02,240.03 L88.24,240.98 L87.46,241.92 L86.69,242.84 L85.91,243.75 L85.13,244.63 L84.35,245.50 L83.58,246.33 L82.80,247.14 L82.02,247.91 L81.25,248.63 L80.47,249.31 L79.69,249.94 L78.92,250.50 L78.14,250.99 L77.36,251.40Z" fill="#dddddd" stroke="none"/>
<path d="M77.36,249.50 L78.14,249.09 L78.92,248.60 L79.69,248.04 L80.47,247.41 L81.25,246.73 L82.02,246.01 L82.80,245.24 L83.58,244.43 L84.35,243.60 L85.13,242.73 L85.91,241.85 L86.69,240.94 L87.46,240.02 L88.24,239.08 L89.02,238.13 L89.79,237.17 L90.57,236.20 L91.35,235.22 L92.12,234.24 L92.90,233.26 L93.68,232.28 L94.45,231.29 L95.23,230.30 L96.01,229.32 L96.78,228.33 L97.56,227.35 L98.34,226.37 L99.11,225.39 L99.89,224.42 L100.67,223.46 L101.44,222.50 L102.22,221.54 L103.00,220.59 L103.78,219.66 L104.55,218.73 L105.33,217.80 L106.11,216.89 L106.88,215.99 L107.66,215.10 L108.44,214.22 L109.21,213.35 L109.99,212.50 L110.77,211.66 L111.54,210.83 L112.32,210.02 L113.10,209.22 L113.87,208.44 L114.65,207.68 L115.43,206.93 L116.20,206.19 L116.98,205.48 L117.76,204.78 L118.53,204.10 L119.31,203.44 L120.09,202.80 L120.87,202.18 L121.64,201.58 L122.42,201.00 L123.20,200.43 L123.97,199.89 L124.75,199.37 L125.53,198.86 L126.30,198.38 L127.08,197.92 L127.86,197.48 L128.63,197.06 L129.41,196.65 L130.19,196.27 L130.96,195.91 L131.74,195.57 L132.52,195.24 L133.29,194.94 L134.07,194.65 L134.85,194.39 L135.62,194.14 L136.40,193.91 L137.18,193.70 L137.96,193.50 L138.73,193.32 L139.51,193.16 L140.29,193.01 L141.06,192.88 L141.84,192.77 L142.62,192.67 L143.39,192.58 L144.17,192.51 L144.95,192.46 L145.72,192.41 L146.50,192.38 L147.28,192.36 L148.05,192.36 L148.83,192.37 L149.61,192.39 L150.38,192.42 L151.16,192.46 L151.94,192.52 L152.71,192.59 L153.49,192.66 L154.27,192.75 L155.04,192.85 L155.82,192.96 L156.60,193.08 L157.38,193.21 L158.15,193.36 L158.93,193.51 L159.71,193.67 L160.48,193.85 L161.26,194.03 L162.04,194.23 L162.81,194.44 L163.59,194.66 L164.37,194.89 L165.14,195.13 L165.92,195.38 L166.70,195.65 L167.47,195.93 L168.25,196.22 L169.03,196.53 L169.80,196.85 L170.58,197.18 L171.36,197.52 L172.13,197.88 L172.91,198.26 L173.69,198.65 L174.47,199.05 L175.24,199.47 L176.02,199.90 L176.80,200.35 L177.57,200.81 L178.35,201.29 L179.13,201.79 L179.90,202.30 L180.68,202.83 L181.46,203.37 L182.23,203.93 L183.01,204.50 L183.79,205.09 L184.56,205.70 L185.34,206.32 L186.12,206.96 L186.89,207.61 L187.67,208.27 L188.45,208.95 L189.22,209.65 L190.00,210.35 L190.78,211.07 L191.56,211.80 L192.33,212.55 L193.11,213.30 L193.89,214.07 L194.66,214.84 L195.44,215.62 L196.22,216.42 L196.99,217.21 L197.77,218.02 L198.55,218.83 L199.32,219.65 L200.10,220.47 L200.88,221.29 L201.65,222.11 L202.43,222.94 L203.21,223.77 L203.98,224.59 L204.76,225.42 L205.54,226.24 L206.31,227.06 L207.09,227.87 L207.87,228.68 L208.64,229.49 L209.42,230.29 L210.20,231.08 L210.98,231.86 L211.75,232.64 L212.53,233.41 L213.31,234.17 L214.08,234.92 L214.86,235.67 L215.64,236.40 L216.41,237.12 L217.19,237.84 L217.97,238.55 L218.74,239.25 L219.52,239.94 L220.30,240.62 L221.07,241.30 L221.85,241.97 L222.63,242.63 L223.40,243.29 L224.18,243.95 L224.96,244.60 L225.73,245.25 L226.51,245.90 L227.29,246.55 L228.07,247.20 L228.84,247.85 L229.62,248.50 L230.40,249.15 L231.17,249.81 L231.95,250.47" fill="none" stroke="#767676" stroke-width="1.55" stroke-linejoin="round" stroke-linecap="square"/>
<path d="M77.36,246.80 L78.10,246.28 L78.83,245.69 L79.56,245.06 L80.30,244.37 L81.03,243.63 L81.76,242.86 L82.49,242.04 L83.23,241.19 L83.96,240.30 L84.69,239.39 L85.43,238.45 L86.16,237.48 L86.89,236.50 L87.62,235.50 L88.36,234.48 L89.09,233.45 L89.82,232.41 L90.56,231.37 L91.29,230.31 L92.02,229.25 L92.75,228.19 L93.49,227.12 L94.22,226.05 L94.95,224.98 L95.69,223.92 L96.42,222.85 L97.15,221.79 L97.88,220.73 L98.62,219.67 L99.35,218.62 L100.08,217.58 L100.82,216.54 L101.55,215.50 L102.28,214.47 L103.01,213.44 L103.75,212.42 L104.48,211.40 L105.21,210.39 L105.95,209.38 L106.68,208.38 L107.41,207.38 L108.14,206.40 L108.88,205.41 L109.61,204.43 L110.34,203.46 L111.08,202.50 L111.81,201.54 L112.54,200.58 L113.28,199.64 L114.01,198.70 L114.74,197.76 L115.47,196.83 L116.21,195.92 L116.94,195.00 L117.67,194.10 L118.41,193.20 L119.14,192.31 L119.87,191.43 L120.60,190.56 L121.34,189.70 L122.07,188.85 L122.80,188.01 L123.54,187.18 L124.27,186.36 L125.00,185.55 L125.73,184.75 L126.47,183.97 L127.20,183.20 L127.93,182.43 L128.67,181.69 L129.40,180.95 L130.13,180.23 L130.86,179.53 L131.60,178.83 L132.33,178.16 L133.06,177.50 L133.80,176.86 L134.53,176.23 L135.26,175.63 L135.99,175.04 L136.73,174.48 L137.46,173.93 L138.19,173.40 L138.93,172.90 L139.66,172.41 L140.39,171.95 L141.12,171.51 L141.86,171.09 L142.59,170.70 L143.32,170.33 L144.06,169.98 L144.79,169.66 L145.52,169.37 L146.25,169.10 L146.99,168.85 L147.72,168.63 L148.45,168.44 L149.19,168.27 L149.92,168.13 L150.65,168.01 L151.39,167.92 L152.12,167.86 L152.85,167.82 L153.58,167.81 L154.32,167.82 L155.05,167.87 L155.78,167.93 L156.52,168.03 L157.25,168.15 L157.98,168.29 L158.71,168.46 L159.45,168.65 L160.18,168.87 L160.91,169.12 L161.65,169.39 L162.38,169.68 L163.11,170.00 L163.84,170.34 L164.58,170.70 L165.31,171.09 L166.04,171.50 L166.78,171.93 L167.51,172.39 L168.24,172.87 L168.97,173.37 L169.71,173.89 L170.44,174.43 L171.17,175.00 L171.91,175.59 L172.64,176.20 L173.37,176.83 L174.10,177.48 L174.84,178.15 L175.57,178.85 L176.30,179.56 L177.04,180.29 L177.77,181.05 L178.50,181.83 L179.23,182.62 L179.97,183.44 L180.70,184.28 L181.43,185.14 L182.17,186.02 L182.90,186.92 L183.63,187.84 L184.37,188.78 L185.10,189.75 L185.83,190.73 L186.56,191.73 L187.30,192.75 L188.03,193.80 L188.76,194.85 L189.50,195.93 L190.23,197.03 L190.96,198.14 L191.69,199.26 L192.43,200.41 L193.16,201.56 L193.89,202.73 L194.63,203.91 L195.36,205.10 L196.09,206.30 L196.82,207.51 L197.56,208.72 L198.29,209.94 L199.02,211.17 L199.76,212.39 L200.49,213.62 L201.22,214.84 L201.95,216.06 L202.69,217.27 L203.42,218.48 L204.15,219.67 L204.89,220.86 L205.62,222.03 L206.35,223.18 L207.08,224.32 L207.82,225.44 L208.55,226.54 L209.28,227.61 L210.02,228.66 L210.75,229.69 L211.48,230.68 L212.21,231.65 L212.95,232.59 L213.68,233.51 L214.41,234.39 L215.15,235.24 L215.88,236.07 L216.61,236.87 L217.34,237.66 L218.08,238.42 L218.81,239.16 L219.54,239.90 L220.28,240.63 L221.01,241.37 L221.74,242.12 L222.48,242.90 L223.21,243.70 L223.21,246.10 L222.48,245.34 L221.74,244.63 L221.01,243.94 L220.28,243.27 L219.54,242.60 L218.81,241.93 L218.08,241.24 L217.34,240.55 L216.61,239.83 L215.88,239.09 L215.15,238.33 L214.41,237.54 L213.68,236.72 L212.95,235.87 L212.21,235.00 L211.48,234.10 L210.75,233.16 L210.02,232.21 L209.28,231.22 L208.55,230.21 L207.82,229.18 L207.08,228.13 L206.35,227.06 L205.62,225.97 L204.89,224.87 L204.15,223.75 L203.42,222.63 L202.69,221.49 L201.95,220.35 L201.22,219.21 L200.49,218.06 L199.76,216.91 L199.02,215.76 L198.29,214.61 L197.56,213.47 L196.82,212.33 L196.09,211.20 L195.36,210.08 L194.63,208.97 L193.89,207.86 L193.16,206.77 L192.43,205.69 L191.69,204.63 L190.96,203.58 L190.23,202.54 L189.50,201.52 L188.76,200.52 L188.03,199.53 L187.30,198.56 L186.56,197.60 L185.83,196.67 L185.10,195.75 L184.37,194.85 L183.63,193.97 L182.90,193.10 L182.17,192.26 L181.43,191.44 L180.70,190.63 L179.97,189.84 L179.23,189.07 L178.50,188.33 L177.77,187.60 L177.04,186.90 L176.30,186.21 L175.57,185.55 L174.84,184.90 L174.10,184.28 L173.37,183.68 L172.64,183.10 L171.91,182.54 L171.17,182.00 L170.44,181.49 L169.71,180.99 L168.97,180.51 L168.24,180.06 L167.51,179.63 L166.78,179.22 L166.04,178.83 L165.31,178.46 L164.58,178.11 L163.84,177.79 L163.11,177.49 L162.38,177.21 L161.65,176.95 L160.91,176.71 L160.18,176.50 L159.45,176.31 L158.71,176.14 L157.98,175.99 L157.25,175.87 L156.52,175.77 L155.78,175.69 L155.05,175.64 L154.32,175.61 L153.58,175.60 L152.85,175.62 L152.12,175.66 L151.39,175.72 L150.65,175.80 L149.92,175.91 L149.19,176.04 L148.45,176.20 L147.72,176.37 L146.99,176.57 L146.25,176.80 L145.52,177.04 L144.79,177.31 L144.06,177.60 L143.32,177.92 L142.59,178.25 L141.86,178.61 L141.12,178.99 L140.39,179.39 L139.66,179.81 L138.93,180.25 L138.19,180.71 L137.46,181.19 L136.73,181.69 L135.99,182.21 L135.26,182.75 L134.53,183.30 L133.80,183.88 L133.06,184.47 L132.33,185.08 L131.60,185.70 L130.86,186.34 L130.13,186.99 L129.40,187.66 L128.67,188.34 L127.93,189.04 L127.20,189.75 L126.47,190.47 L125.73,191.20 L125.00,191.95 L124.27,192.71 L123.54,193.47 L122.80,194.24 L122.07,195.03 L121.34,195.82 L120.60,196.61 L119.87,197.42 L119.14,198.23 L118.41,199.05 L117.67,199.87 L116.94,200.71 L116.21,201.54 L115.47,202.39 L114.74,203.24 L114.01,204.10 L113.28,204.96 L112.54,205.83 L111.81,206.70 L111.08,207.58 L110.34,208.47 L109.61,209.36 L108.88,210.26 L108.14,211.17 L107.41,212.08 L106.68,213.00 L105.95,213.93 L105.21,214.86 L104.48,215.80 L103.75,216.75 L103.01,217.70 L102.28,218.66 L101.55,219.63 L100.82,220.60 L100.08,221.58 L99.35,222.57 L98.62,223.56 L97.88,224.56 L97.15,225.56 L96.42,226.57 L95.69,227.58 L94.95,228.59 L94.22,229.60 L93.49,230.61 L92.75,231.62 L92.02,232.63 L91.29,233.64 L90.56,234.64 L89.82,235.64 L89.09,236.63 L88.36,237.61 L87.62,238.57 L86.89,239.52 L86.16,240.46 L85.43,241.37 L84.69,242.26 L83.96,243.13 L83.23,243.97 L82.49,244.77 L81.76,245.54 L81.03,246.27 L80.30,246.96 L79.56,247.61 L78.83,248.20 L78.10,248.74 L77.36,249.22Z" fill="#eeb1a9" stroke="none"/>
<path d="M77.36,248.01 L78.10,247.51 L78.83,246.95 L79.56,246.33 L80.30,245.67 L81.03,244.95 L81.76,244.20 L82.49,243.41 L83.23,242.58 L83.96,241.71 L84.69,240.82 L85.43,239.91 L86.16,238.97 L86.89,238.01 L87.62,237.04 L88.36,236.04 L89.09,235.04 L89.82,234.03 L90.56,233.01 L91.29,231.98 L92.02,230.94 L92.75,229.90 L93.49,228.87 L94.22,227.83 L94.95,226.79 L95.69,225.75 L96.42,224.71 L97.15,223.68 L97.88,222.65 L98.62,221.62 L99.35,220.60 L100.08,219.58 L100.82,218.57 L101.55,217.56 L102.28,216.56 L103.01,215.57 L103.75,214.58 L104.48,213.60 L105.21,212.62 L105.95,211.65 L106.68,210.69 L107.41,209.73 L108.14,208.78 L108.88,207.84 L109.61,206.90 L110.34,205.97 L111.08,205.04 L111.81,204.12 L112.54,203.21 L113.28,202.30 L114.01,201.40 L114.74,200.50 L115.47,199.61 L116.21,198.73 L116.94,197.85 L117.67,196.99 L118.41,196.13 L119.14,195.27 L119.87,194.43 L120.60,193.59 L121.34,192.76 L122.07,191.94 L122.80,191.13 L123.54,190.32 L124.27,189.53 L125.00,188.75 L125.73,187.98 L126.47,187.22 L127.20,186.47 L127.93,185.74 L128.67,185.01 L129.40,184.31 L130.13,183.61 L130.86,182.93 L131.60,182.27 L132.33,181.62 L133.06,180.98 L133.80,180.37 L134.53,179.77 L135.26,179.19 L135.99,178.63 L136.73,178.08 L137.46,177.56 L138.19,177.06 L138.93,176.57 L139.66,176.11 L140.39,175.67 L141.12,175.25 L141.86,174.85 L142.59,174.48 L143.32,174.12 L144.06,173.79 L144.79,173.49 L145.52,173.21 L146.25,172.95 L146.99,172.71 L147.72,172.50 L148.45,172.32 L149.19,172.16 L149.92,172.02 L150.65,171.91 L151.39,171.82 L152.12,171.76 L152.85,171.72 L153.58,171.71 L154.32,171.72 L155.05,171.75 L155.78,171.81 L156.52,171.90 L157.25,172.01 L157.98,172.14 L158.71,172.30 L159.45,172.48 L160.18,172.69 L160.91,172.91 L161.65,173.17 L162.38,173.44 L163.11,173.74 L163.84,174.06 L164.58,174.41 L165.31,174.77 L166.04,175.16 L166.78,175.57 L167.51,176.01 L168.24,176.46 L168.97,176.94 L169.71,177.44 L170.44,177.96 L171.17,178.50 L171.91,179.06 L172.64,179.65 L173.37,180.25 L174.10,180.88 L174.84,181.53 L175.57,182.20 L176.30,182.89 L177.04,183.60 L177.77,184.33 L178.50,185.08 L179.23,185.85 L179.97,186.64 L180.70,187.45 L181.43,188.29 L182.17,189.14 L182.90,190.01 L183.63,190.90 L184.37,191.82 L185.10,192.75 L185.83,193.70 L186.56,194.67 L187.30,195.66 L188.03,196.66 L188.76,197.69 L189.50,198.73 L190.23,199.78 L190.96,200.86 L191.69,201.95 L192.43,203.05 L193.16,204.17 L193.89,205.30 L194.63,206.44 L195.36,207.59 L196.09,208.75 L196.82,209.92 L197.56,211.10 L198.29,212.28 L199.02,213.46 L199.76,214.65 L200.49,215.84 L201.22,217.02 L201.95,218.20 L202.69,219.38 L203.42,220.55 L204.15,221.71 L204.89,222.86 L205.62,224.00 L206.35,225.12 L207.08,226.23 L207.82,227.31 L208.55,228.38 L209.28,229.42 L210.02,230.43 L210.75,231.43 L211.48,232.39 L212.21,233.33 L212.95,234.23 L213.68,235.11 L214.41,235.96 L215.15,236.79 L215.88,237.58 L216.61,238.35 L217.34,239.10 L218.08,239.83 L218.81,240.54 L219.54,241.25 L220.28,241.95 L221.01,242.66 L221.74,243.38 L222.48,244.12 L223.21,244.90" fill="none" stroke="#a55a57" stroke-width="1.55" stroke-linejoin="round" stroke-linecap="square"/>
<rect x="69.3" y="158.0" width="171.20" height="110.25" fill="none" stroke="#000" stroke-width="1.15"/>
<path d="M112.10,158.0v3.4M112.10,268.25v-3.4M154.90,158.0v3.4M154.90,268.25v-3.4M197.70,158.0v3.4M197.70,268.25v-3.4M69.3,261.55h3.4M240.5,261.55h-3.4M69.3,235.83h3.4M240.5,235.83h-3.4M69.3,210.11h3.4M240.5,210.11h-3.4M69.3,184.39h3.4M240.5,184.39h-3.4M69.3,158.67h3.4M240.5,158.67h-3.4" stroke="#000" stroke-width="0.95" fill="none"/>
<text transform="translate(154.60,258.85) scale(1.04,1)" font-size="13.2" text-anchor="middle" ><tspan font-style="italic" font-size="14.2">σ</tspan> = 5</text>
<text transform="translate(69.30,280.30) scale(1.085,1)" font-size="11.4" text-anchor="middle" >-10</text>
<text transform="translate(112.10,280.30) scale(1.085,1)" font-size="11.4" text-anchor="middle" >-5</text>
<text transform="translate(154.90,280.30) scale(1.085,1)" font-size="11.4" text-anchor="middle" >0</text>
<text transform="translate(197.70,280.30) scale(1.085,1)" font-size="11.4" text-anchor="middle" >5</text>
<text transform="translate(240.50,280.30) scale(1.085,1)" font-size="11.4" text-anchor="middle" >10</text>
<text transform="translate(158.40,299.00) scale(1.085,1)" font-size="12.7" text-anchor="middle" ><tspan font-style="italic">j</tspan>-position (site)</text>
<path d="M114.10,288.3 q0.9,-1.3 1.9,-0.4 t1.9,-0.4" fill="none" stroke="#000" stroke-width="0.9"/>
<text transform="translate(64.00,162.42) scale(1.085,1)" font-size="11.4" text-anchor="end" >0.8</text>
<text transform="translate(64.00,213.86) scale(1.085,1)" font-size="11.4" text-anchor="end" >0.4</text>
<text transform="translate(64.00,265.30) scale(1.085,1)" font-size="11.4" text-anchor="end" >0.0</text>
<path d="M274.02,255.16 L274.80,254.81 L275.58,254.45 L276.35,254.06 L277.13,253.65 L277.91,253.21 L278.69,252.72 L279.47,252.20 L280.24,251.64 L281.02,251.02 L281.80,250.35 L282.58,249.61 L283.36,248.82 L284.13,247.95 L284.91,247.05 L285.69,246.13 L286.47,245.19 L287.25,244.25 L288.02,243.29 L288.80,242.32 L289.58,241.34 L290.36,240.36 L291.14,239.37 L291.92,238.39 L292.69,237.40 L293.47,236.41 L294.25,235.43 L295.03,234.45 L295.81,233.48 L296.58,232.51 L297.36,231.55 L298.14,230.58 L298.92,229.63 L299.70,228.68 L300.47,227.73 L301.25,226.79 L302.03,225.87 L302.81,224.95 L303.59,224.05 L304.36,223.15 L305.14,222.25 L305.92,221.34 L306.70,220.45 L307.48,219.60 L308.25,218.79 L309.03,218.01 L309.81,217.28 L310.59,216.59 L311.37,215.95 L312.15,215.35 L312.92,214.81 L313.70,214.32 L314.48,213.86 L315.26,213.43 L316.04,213.02 L316.81,212.63 L317.59,212.25 L318.37,211.88 L319.15,211.52 L319.93,211.18 L320.70,210.85 L321.48,210.54 L322.26,210.25 L323.04,209.97 L323.82,209.71 L324.59,209.47 L325.37,209.25 L326.15,209.04 L326.93,208.86 L327.71,208.70 L328.48,208.56 L329.26,208.41 L330.04,208.27 L330.82,208.14 L331.60,208.01 L332.38,207.89 L333.15,207.77 L333.93,207.65 L334.71,207.54 L335.49,207.44 L336.27,207.33 L337.04,207.24 L337.82,207.15 L338.60,207.08 L339.38,207.01 L340.16,206.94 L340.93,206.89 L341.71,206.85 L342.49,206.81 L343.27,206.78 L344.05,206.77 L344.82,206.76 L345.60,206.76 L346.38,206.78 L347.16,206.80 L347.94,206.84 L348.71,206.88 L349.49,206.93 L350.27,206.99 L351.05,207.06 L351.83,207.13 L352.61,207.22 L353.38,207.31 L354.16,207.42 L354.94,207.53 L355.72,207.65 L356.50,207.78 L357.27,207.93 L358.05,208.08 L358.83,208.25 L359.61,208.42 L360.39,208.60 L361.16,208.79 L361.94,208.99 L362.72,209.19 L363.50,209.39 L364.28,209.60 L365.05,209.82 L365.83,210.04 L366.61,210.26 L367.39,210.49 L368.17,210.72 L368.94,210.96 L369.72,211.20 L370.50,211.44 L371.28,211.69 L372.06,211.94 L372.84,212.20 L373.61,212.46 L374.39,212.72 L375.17,212.98 L375.95,213.23 L376.73,213.47 L377.50,213.71 L378.28,213.95 L379.06,214.19 L379.84,214.44 L380.62,214.70 L381.39,214.97 L382.17,215.27 L382.95,215.61 L383.73,215.97 L384.51,216.37 L385.28,216.81 L386.06,217.27 L386.84,217.76 L387.62,218.27 L388.40,218.80 L389.17,219.34 L389.95,219.89 L390.73,220.45 L391.51,221.00 L392.29,221.56 L393.07,222.12 L393.84,222.70 L394.62,223.30 L395.40,223.94 L396.18,224.60 L396.96,225.30 L397.73,226.03 L398.51,226.79 L399.29,227.59 L400.07,228.43 L400.85,229.30 L401.62,230.22 L402.40,231.17 L403.18,232.15 L403.96,233.15 L404.74,234.16 L405.51,235.18 L406.29,236.20 L407.07,237.21 L407.85,238.19 L408.63,239.15 L409.40,240.07 L410.18,240.97 L410.96,241.87 L411.74,242.75 L412.52,243.62 L413.30,244.47 L414.07,245.29 L414.85,246.08 L415.63,246.85 L416.41,247.59 L417.19,248.31 L417.96,249.00 L418.74,249.66 L419.52,250.28 L420.30,250.85 L421.08,251.39 L421.85,251.91 L422.63,252.39 L423.41,252.83 L424.19,253.24 L424.97,253.62 L425.74,253.97 L426.52,254.30 L427.30,254.60 L428.08,254.89 L428.86,255.15 L428.86,258.95 L428.08,258.69 L427.30,258.40 L426.52,258.10 L425.74,257.77 L424.97,257.42 L424.19,257.04 L423.41,256.63 L422.63,256.19 L421.85,255.71 L421.08,255.19 L420.30,254.65 L419.52,254.08 L418.74,253.46 L417.96,252.80 L417.19,252.11 L416.41,251.39 L415.63,250.65 L414.85,249.88 L414.07,249.09 L413.30,248.27 L412.52,247.42 L411.74,246.55 L410.96,245.67 L410.18,244.77 L409.40,243.87 L408.63,242.95 L407.85,241.99 L407.07,241.01 L406.29,240.00 L405.51,238.98 L404.74,237.96 L403.96,236.95 L403.18,235.95 L402.40,234.97 L401.62,234.02 L400.85,233.10 L400.07,232.23 L399.29,231.39 L398.51,230.59 L397.73,229.83 L396.96,229.10 L396.18,228.40 L395.40,227.74 L394.62,227.10 L393.84,226.50 L393.07,225.92 L392.29,225.36 L391.51,224.80 L390.73,224.25 L389.95,223.69 L389.17,223.14 L388.40,222.60 L387.62,222.07 L386.84,221.56 L386.06,221.07 L385.28,220.61 L384.51,220.17 L383.73,219.77 L382.95,219.41 L382.17,219.07 L381.39,218.77 L380.62,218.50 L379.84,218.24 L379.06,217.99 L378.28,217.75 L377.50,217.51 L376.73,217.27 L375.95,217.03 L375.17,216.78 L374.39,216.52 L373.61,216.26 L372.84,216.00 L372.06,215.74 L371.28,215.49 L370.50,215.24 L369.72,215.00 L368.94,214.76 L368.17,214.52 L367.39,214.29 L366.61,214.06 L365.83,213.84 L365.05,213.62 L364.28,213.40 L363.50,213.19 L362.72,212.99 L361.94,212.79 L361.16,212.59 L360.39,212.40 L359.61,212.22 L358.83,212.05 L358.05,211.88 L357.27,211.73 L356.50,211.58 L355.72,211.45 L354.94,211.33 L354.16,211.22 L353.38,211.11 L352.61,211.02 L351.83,210.93 L351.05,210.86 L350.27,210.79 L349.49,210.73 L348.71,210.68 L347.94,210.64 L347.16,210.60 L346.38,210.58 L345.60,210.56 L344.82,210.56 L344.05,210.57 L343.27,210.58 L342.49,210.61 L341.71,210.65 L340.93,210.69 L340.16,210.74 L339.38,210.81 L338.60,210.88 L337.82,210.95 L337.04,211.04 L336.27,211.13 L335.49,211.24 L334.71,211.34 L333.93,211.45 L333.15,211.57 L332.38,211.69 L331.60,211.81 L330.82,211.94 L330.04,212.07 L329.26,212.21 L328.48,212.36 L327.71,212.50 L326.93,212.66 L326.15,212.84 L325.37,213.05 L324.59,213.27 L323.82,213.51 L323.04,213.77 L322.26,214.05 L321.48,214.34 L320.70,214.65 L319.93,214.98 L319.15,215.32 L318.37,215.68 L317.59,216.05 L316.81,216.43 L316.04,216.82 L315.26,217.23 L314.48,217.66 L313.70,218.12 L312.92,218.61 L312.15,219.15 L311.37,219.75 L310.59,220.39 L309.81,221.08 L309.03,221.81 L308.25,222.59 L307.48,223.40 L306.70,224.25 L305.92,225.14 L305.14,226.05 L304.36,226.95 L303.59,227.85 L302.81,228.75 L302.03,229.67 L301.25,230.59 L300.47,231.53 L299.70,232.48 L298.92,233.43 L298.14,234.38 L297.36,235.35 L296.58,236.31 L295.81,237.28 L295.03,238.25 L294.25,239.23 L293.47,240.21 L292.69,241.20 L291.92,242.19 L291.14,243.17 L290.36,244.16 L289.58,245.14 L288.80,246.12 L288.02,247.09 L287.25,248.05 L286.47,248.99 L285.69,249.93 L284.91,250.85 L284.13,251.75 L283.36,252.62 L282.58,253.41 L281.80,254.15 L281.02,254.82 L280.24,255.44 L279.47,256.00 L278.69,256.52 L277.91,257.01 L277.13,257.45 L276.35,257.86 L275.58,258.25 L274.80,258.61 L274.02,258.96Z" fill="#dddddd" stroke="none"/>
<path d="M274.02,257.06 L274.80,256.71 L275.58,256.35 L276.35,255.96 L277.13,255.55 L277.91,255.11 L278.69,254.62 L279.47,254.10 L280.24,253.54 L281.02,252.92 L281.80,252.25 L282.58,251.51 L283.36,250.72 L284.13,249.85 L284.91,248.95 L285.69,248.03 L286.47,247.09 L287.25,246.15 L288.02,245.19 L288.80,244.22 L289.58,243.24 L290.36,242.26 L291.14,241.27 L291.92,240.29 L292.69,239.30 L293.47,238.31 L294.25,237.33 L295.03,236.35 L295.81,235.38 L296.58,234.41 L297.36,233.45 L298.14,232.48 L298.92,231.53 L299.70,230.58 L300.47,229.63 L301.25,228.69 L302.03,227.77 L302.81,226.85 L303.59,225.95 L304.36,225.05 L305.14,224.15 L305.92,223.24 L306.70,222.35 L307.48,221.50 L308.25,220.69 L309.03,219.91 L309.81,219.18 L310.59,218.49 L311.37,217.85 L312.15,217.25 L312.92,216.71 L313.70,216.22 L314.48,215.76 L315.26,215.33 L316.04,214.92 L316.81,214.53 L317.59,214.15 L318.37,213.78 L319.15,213.42 L319.93,213.08 L320.70,212.75 L321.48,212.44 L322.26,212.15 L323.04,211.87 L323.82,211.61 L324.59,211.37 L325.37,211.15 L326.15,210.94 L326.93,210.76 L327.71,210.60 L328.48,210.46 L329.26,210.31 L330.04,210.17 L330.82,210.04 L331.60,209.91 L332.38,209.79 L333.15,209.67 L333.93,209.55 L334.71,209.44 L335.49,209.34 L336.27,209.23 L337.04,209.14 L337.82,209.05 L338.60,208.98 L339.38,208.91 L340.16,208.84 L340.93,208.79 L341.71,208.75 L342.49,208.71 L343.27,208.68 L344.05,208.67 L344.82,208.66 L345.60,208.66 L346.38,208.68 L347.16,208.70 L347.94,208.74 L348.71,208.78 L349.49,208.83 L350.27,208.89 L351.05,208.96 L351.83,209.03 L352.61,209.12 L353.38,209.21 L354.16,209.32 L354.94,209.43 L355.72,209.55 L356.50,209.68 L357.27,209.83 L358.05,209.98 L358.83,210.15 L359.61,210.32 L360.39,210.50 L361.16,210.69 L361.94,210.89 L362.72,211.09 L363.50,211.29 L364.28,211.50 L365.05,211.72 L365.83,211.94 L366.61,212.16 L367.39,212.39 L368.17,212.62 L368.94,212.86 L369.72,213.10 L370.50,213.34 L371.28,213.59 L372.06,213.84 L372.84,214.10 L373.61,214.36 L374.39,214.62 L375.17,214.88 L375.95,215.13 L376.73,215.37 L377.50,215.61 L378.28,215.85 L379.06,216.09 L379.84,216.34 L380.62,216.60 L381.39,216.87 L382.17,217.17 L382.95,217.51 L383.73,217.87 L384.51,218.27 L385.28,218.71 L386.06,219.17 L386.84,219.66 L387.62,220.17 L388.40,220.70 L389.17,221.24 L389.95,221.79 L390.73,222.35 L391.51,222.90 L392.29,223.46 L393.07,224.02 L393.84,224.60 L394.62,225.20 L395.40,225.84 L396.18,226.50 L396.96,227.20 L397.73,227.93 L398.51,228.69 L399.29,229.49 L400.07,230.33 L400.85,231.20 L401.62,232.12 L402.40,233.07 L403.18,234.05 L403.96,235.05 L404.74,236.06 L405.51,237.08 L406.29,238.10 L407.07,239.11 L407.85,240.09 L408.63,241.05 L409.40,241.97 L410.18,242.87 L410.96,243.77 L411.74,244.65 L412.52,245.52 L413.30,246.37 L414.07,247.19 L414.85,247.98 L415.63,248.75 L416.41,249.49 L417.19,250.21 L417.96,250.90 L418.74,251.56 L419.52,252.18 L420.30,252.75 L421.08,253.29 L421.85,253.81 L422.63,254.29 L423.41,254.73 L424.19,255.14 L424.97,255.52 L425.74,255.87 L426.52,256.20 L427.30,256.50 L428.08,256.79 L428.86,257.05" fill="none" stroke="#767676" stroke-width="1.55" stroke-linejoin="round" stroke-linecap="square"/>
<path d="M274.00,254.86 L274.73,254.53 L275.46,254.19 L276.20,253.82 L276.93,253.43 L277.66,253.00 L278.39,252.54 L279.13,252.03 L279.86,251.47 L280.59,250.86 L281.32,250.19 L282.05,249.45 L282.79,248.65 L283.52,247.76 L284.25,246.81 L284.98,245.82 L285.71,244.81 L286.45,243.78 L287.18,242.74 L287.91,241.68 L288.64,240.61 L289.38,239.54 L290.11,238.47 L290.84,237.40 L291.57,236.34 L292.30,235.28 L293.04,234.24 L293.77,233.21 L294.50,232.21 L295.23,231.22 L295.96,230.22 L296.70,229.20 L297.43,228.18 L298.16,227.16 L298.89,226.14 L299.63,225.13 L300.36,224.13 L301.09,223.16 L301.82,222.20 L302.55,221.28 L303.29,220.38 L304.02,219.53 L304.75,218.72 L305.48,217.96 L306.22,217.25 L306.95,216.58 L307.68,215.95 L308.41,215.35 L309.14,214.76 L309.88,214.20 L310.61,213.65 L311.34,213.11 L312.07,212.57 L312.80,212.03 L313.54,211.48 L314.27,210.95 L315.00,210.43 L315.73,209.92 L316.47,209.42 L317.20,208.91 L317.93,208.39 L318.66,207.85 L319.39,207.28 L320.13,206.66 L320.86,205.98 L321.59,205.22 L322.32,204.43 L323.05,203.63 L323.79,202.84 L324.52,202.08 L325.25,201.39 L325.98,200.70 L326.72,200.02 L327.45,199.34 L328.18,198.66 L328.91,197.99 L329.64,197.31 L330.38,196.64 L331.11,195.97 L331.84,195.31 L332.57,194.64 L333.31,193.98 L334.04,193.33 L334.77,192.67 L335.50,192.04 L336.23,191.43 L336.97,190.87 L337.70,190.33 L338.43,189.84 L339.16,189.38 L339.89,188.97 L340.63,188.62 L341.36,188.32 L342.09,188.07 L342.82,187.85 L343.56,187.66 L344.29,187.49 L345.02,187.33 L345.75,187.20 L346.48,187.09 L347.22,187.01 L347.95,186.96 L348.68,186.94 L349.41,186.95 L350.14,187.02 L350.88,187.15 L351.61,187.36 L352.34,187.69 L353.07,188.08 L353.81,188.49 L354.54,188.93 L355.27,189.39 L356.00,189.87 L356.73,190.36 L357.47,190.88 L358.20,191.40 L358.93,191.92 L359.66,192.44 L360.39,192.96 L361.13,193.49 L361.86,194.01 L362.59,194.53 L363.32,195.06 L364.06,195.58 L364.79,196.10 L365.52,196.63 L366.25,197.16 L366.98,197.68 L367.72,198.21 L368.45,198.75 L369.18,199.30 L369.91,199.84 L370.65,200.39 L371.38,200.94 L372.11,201.48 L372.84,202.01 L373.57,202.53 L374.31,203.05 L375.04,203.57 L375.77,204.10 L376.50,204.64 L377.23,205.20 L377.97,205.77 L378.70,206.37 L379.43,206.98 L380.16,207.60 L380.90,208.22 L381.63,208.85 L382.36,209.49 L383.09,210.13 L383.82,210.78 L384.56,211.43 L385.29,212.08 L386.02,212.73 L386.75,213.39 L387.48,214.06 L388.22,214.72 L388.95,215.40 L389.68,216.08 L390.41,216.77 L391.15,217.47 L391.88,218.18 L392.61,218.90 L393.34,219.63 L394.07,220.38 L394.81,221.17 L395.54,222.00 L396.27,222.86 L397.00,223.75 L397.74,224.67 L398.47,225.60 L399.20,226.56 L399.93,227.53 L400.66,228.50 L401.40,229.48 L402.13,230.46 L402.86,231.44 L403.59,232.43 L404.32,233.45 L405.06,234.50 L405.79,235.58 L406.52,236.67 L407.25,237.78 L407.99,238.89 L408.72,239.99 L409.45,241.08 L410.18,242.16 L410.91,243.22 L411.65,244.24 L412.38,245.23 L413.11,246.17 L413.84,247.05 L414.57,247.88 L415.31,248.67 L416.04,249.41 L416.77,250.11 L417.50,250.78 L418.24,251.41 L418.97,252.01 L419.70,252.59 L419.70,254.81 L418.97,254.27 L418.24,253.71 L417.50,253.12 L416.77,252.50 L416.04,251.84 L415.31,251.14 L414.57,250.39 L413.84,249.60 L413.11,248.76 L412.38,247.86 L411.65,246.91 L410.91,245.93 L410.18,244.92 L409.45,243.88 L408.72,242.82 L407.99,241.76 L407.25,240.69 L406.52,239.63 L405.79,238.58 L405.06,237.54 L404.32,236.52 L403.59,235.54 L402.86,234.59 L402.13,233.65 L401.40,232.71 L400.66,231.77 L399.93,230.83 L399.20,229.90 L398.47,228.98 L397.74,228.08 L397.00,227.20 L396.27,226.35 L395.54,225.53 L394.81,224.73 L394.07,223.98 L393.34,223.26 L392.61,222.57 L391.88,221.89 L391.15,221.22 L390.41,220.55 L389.68,219.90 L388.95,219.25 L388.22,218.61 L387.48,217.98 L386.75,217.35 L386.02,216.73 L385.29,216.12 L384.56,215.51 L383.82,214.90 L383.09,214.29 L382.36,213.69 L381.63,213.09 L380.90,212.51 L380.16,211.92 L379.43,211.34 L378.70,210.78 L377.97,210.22 L377.23,209.69 L376.50,209.18 L375.77,208.68 L375.04,208.19 L374.31,207.71 L373.57,207.23 L372.84,206.75 L372.11,206.26 L371.38,205.76 L370.65,205.25 L369.91,204.75 L369.18,204.24 L368.45,203.73 L367.72,203.23 L366.98,202.74 L366.25,202.25 L365.52,201.76 L364.79,201.26 L364.06,200.77 L363.32,200.28 L362.59,199.79 L361.86,199.30 L361.13,198.80 L360.39,198.31 L359.66,197.81 L358.93,197.32 L358.20,196.82 L357.47,196.33 L356.73,195.83 L356.00,195.35 L355.27,194.89 L354.54,194.45 L353.81,194.03 L353.07,193.63 L352.34,193.25 L351.61,192.94 L350.88,192.73 L350.14,192.61 L349.41,192.55 L348.68,192.54 L347.95,192.56 L347.22,192.61 L346.48,192.69 L345.75,192.79 L345.02,192.91 L344.29,193.06 L343.56,193.22 L342.82,193.39 L342.09,193.59 L341.36,193.82 L340.63,194.09 L339.89,194.42 L339.16,194.81 L338.43,195.24 L337.70,195.70 L336.97,196.20 L336.23,196.74 L335.50,197.31 L334.77,197.91 L334.04,198.53 L333.31,199.14 L332.57,199.77 L331.84,200.39 L331.11,201.01 L330.38,201.64 L329.64,202.27 L328.91,202.90 L328.18,203.53 L327.45,204.17 L326.72,204.80 L325.98,205.44 L325.25,206.08 L324.52,206.73 L323.79,207.43 L323.05,208.18 L322.32,208.93 L321.59,209.68 L320.86,210.39 L320.13,211.03 L319.39,211.60 L318.66,212.13 L317.93,212.62 L317.20,213.10 L316.47,213.56 L315.73,214.02 L315.00,214.49 L314.27,214.96 L313.54,215.46 L312.80,215.97 L312.07,216.47 L311.34,216.98 L310.61,217.48 L309.88,218.00 L309.14,218.52 L308.41,219.07 L307.68,219.64 L306.95,220.25 L306.22,220.88 L305.48,221.56 L304.75,222.28 L304.02,223.06 L303.29,223.88 L302.55,224.74 L301.82,225.63 L301.09,226.55 L300.36,227.49 L299.63,228.46 L298.89,229.44 L298.16,230.42 L297.43,231.41 L296.70,232.40 L295.96,233.38 L295.23,234.35 L294.50,235.31 L293.77,236.28 L293.04,237.27 L292.30,238.28 L291.57,239.31 L290.84,240.34 L290.11,241.37 L289.38,242.41 L288.64,243.45 L287.91,244.49 L287.18,245.51 L286.45,246.52 L285.71,247.52 L284.98,248.50 L284.25,249.45 L283.52,250.38 L282.79,251.23 L282.05,252.00 L281.32,252.71 L280.59,253.35 L279.86,253.93 L279.13,254.45 L278.39,254.93 L277.66,255.36 L276.93,255.76 L276.20,256.12 L275.46,256.45 L274.73,256.77 L274.00,257.06Z" fill="#eeb1a9" stroke="none"/>
<path d="M274.00,255.96 L274.73,255.65 L275.46,255.32 L276.20,254.97 L276.93,254.59 L277.66,254.18 L278.39,253.73 L279.13,253.24 L279.86,252.70 L280.59,252.10 L281.32,251.45 L282.05,250.73 L282.79,249.94 L283.52,249.07 L284.25,248.13 L284.98,247.16 L285.71,246.17 L286.45,245.15 L287.18,244.12 L287.91,243.08 L288.64,242.03 L289.38,240.98 L290.11,239.92 L290.84,238.87 L291.57,237.82 L292.30,236.78 L293.04,235.76 L293.77,234.75 L294.50,233.76 L295.23,232.78 L295.96,231.80 L296.70,230.80 L297.43,229.80 L298.16,228.79 L298.89,227.79 L299.63,226.79 L300.36,225.81 L301.09,224.85 L301.82,223.91 L302.55,223.01 L303.29,222.13 L304.02,221.30 L304.75,220.50 L305.48,219.76 L306.22,219.07 L306.95,218.42 L307.68,217.80 L308.41,217.21 L309.14,216.64 L309.88,216.10 L310.61,215.57 L311.34,215.04 L312.07,214.52 L312.80,214.00 L313.54,213.47 L314.27,212.95 L315.00,212.46 L315.73,211.97 L316.47,211.49 L317.20,211.01 L317.93,210.51 L318.66,209.99 L319.39,209.44 L320.13,208.84 L320.86,208.18 L321.59,207.45 L322.32,206.68 L323.05,205.90 L323.79,205.13 L324.52,204.40 L325.25,203.73 L325.98,203.07 L326.72,202.41 L327.45,201.75 L328.18,201.10 L328.91,200.44 L329.64,199.79 L330.38,199.14 L331.11,198.49 L331.84,197.85 L332.57,197.20 L333.31,196.56 L334.04,195.93 L334.77,195.29 L335.50,194.67 L336.23,194.09 L336.97,193.53 L337.70,193.02 L338.43,192.54 L339.16,192.10 L339.89,191.69 L340.63,191.35 L341.36,191.07 L342.09,190.83 L342.82,190.62 L343.56,190.44 L344.29,190.27 L345.02,190.12 L345.75,189.99 L346.48,189.89 L347.22,189.81 L347.95,189.76 L348.68,189.74 L349.41,189.75 L350.14,189.81 L350.88,189.94 L351.61,190.15 L352.34,190.47 L353.07,190.85 L353.81,191.26 L354.54,191.69 L355.27,192.14 L356.00,192.61 L356.73,193.10 L357.47,193.60 L358.20,194.11 L358.93,194.62 L359.66,195.13 L360.39,195.64 L361.13,196.14 L361.86,196.65 L362.59,197.16 L363.32,197.67 L364.06,198.18 L364.79,198.68 L365.52,199.19 L366.25,199.70 L366.98,200.21 L367.72,200.72 L368.45,201.24 L369.18,201.77 L369.91,202.30 L370.65,202.82 L371.38,203.35 L372.11,203.87 L372.84,204.38 L373.57,204.88 L374.31,205.38 L375.04,205.88 L375.77,206.39 L376.50,206.91 L377.23,207.44 L377.97,208.00 L378.70,208.57 L379.43,209.16 L380.16,209.76 L380.90,210.36 L381.63,210.97 L382.36,211.59 L383.09,212.21 L383.82,212.84 L384.56,213.47 L385.29,214.10 L386.02,214.73 L386.75,215.37 L387.48,216.02 L388.22,216.67 L388.95,217.33 L389.68,217.99 L390.41,218.66 L391.15,219.34 L391.88,220.03 L392.61,220.73 L393.34,221.45 L394.07,222.18 L394.81,222.95 L395.54,223.76 L396.27,224.60 L397.00,225.48 L397.74,226.38 L398.47,227.29 L399.20,228.23 L399.93,229.18 L400.66,230.14 L401.40,231.10 L402.13,232.06 L402.86,233.02 L403.59,233.99 L404.32,234.99 L405.06,236.02 L405.79,237.08 L406.52,238.15 L407.25,239.24 L407.99,240.32 L408.72,241.41 L409.45,242.48 L410.18,243.54 L410.91,244.57 L411.65,245.58 L412.38,246.54 L413.11,247.46 L413.84,248.33 L414.57,249.14 L415.31,249.90 L416.04,250.62 L416.77,251.30 L417.50,251.95 L418.24,252.56 L418.97,253.14 L419.70,253.70" fill="none" stroke="#a55a57" stroke-width="1.55" stroke-linejoin="round" stroke-linecap="square"/>
<rect x="265.8" y="158.0" width="171.30" height="110.25" fill="none" stroke="#000" stroke-width="1.15"/>
<path d="M308.62,158.0v3.4M308.62,268.25v-3.4M351.45,158.0v3.4M351.45,268.25v-3.4M394.27,158.0v3.4M394.27,268.25v-3.4M265.8,261.55h3.4M437.1,261.55h-3.4M265.8,235.83h3.4M437.1,235.83h-3.4M265.8,210.11h3.4M437.1,210.11h-3.4M265.8,184.39h3.4M437.1,184.39h-3.4M265.8,158.67h3.4M437.1,158.67h-3.4" stroke="#000" stroke-width="0.95" fill="none"/>
<text transform="translate(351.15,258.85) scale(1.04,1)" font-size="13.2" text-anchor="middle" ><tspan font-style="italic" font-size="14.2">σ</tspan> = 3.5</text>
<text transform="translate(265.80,280.30) scale(1.085,1)" font-size="11.4" text-anchor="middle" >-10</text>
<text transform="translate(308.62,280.30) scale(1.085,1)" font-size="11.4" text-anchor="middle" >-5</text>
<text transform="translate(351.45,280.30) scale(1.085,1)" font-size="11.4" text-anchor="middle" >0</text>
<text transform="translate(394.27,280.30) scale(1.085,1)" font-size="11.4" text-anchor="middle" >5</text>
<text transform="translate(437.10,280.30) scale(1.085,1)" font-size="11.4" text-anchor="middle" >10</text>
<text transform="translate(354.95,299.00) scale(1.085,1)" font-size="12.7" text-anchor="middle" ><tspan font-style="italic">j</tspan>-position (site)</text>
<path d="M310.65,288.3 q0.9,-1.3 1.9,-0.4 t1.9,-0.4" fill="none" stroke="#000" stroke-width="0.9"/>
<path d="M470.67,260.35 L471.45,260.35 L472.23,260.31 L473.01,260.25 L473.78,260.16 L474.56,260.06 L475.34,259.93 L476.11,259.78 L476.89,259.59 L477.67,259.37 L478.44,259.11 L479.22,258.84 L480.00,258.54 L480.78,258.24 L481.55,257.92 L482.33,257.57 L483.11,257.16 L483.88,256.66 L484.66,256.06 L485.44,255.34 L486.21,254.58 L486.99,253.84 L487.77,253.10 L488.55,252.36 L489.32,251.62 L490.10,250.87 L490.88,250.10 L491.65,249.30 L492.43,248.48 L493.21,247.62 L493.98,246.74 L494.76,245.83 L495.54,244.91 L496.32,243.98 L497.09,243.09 L497.87,242.27 L498.65,241.53 L499.42,240.85 L500.20,240.22 L500.98,239.63 L501.75,239.05 L502.53,238.48 L503.31,237.95 L504.08,237.45 L504.86,236.98 L505.64,236.55 L506.42,236.15 L507.19,235.81 L507.97,235.49 L508.75,235.19 L509.52,234.92 L510.30,234.67 L511.08,234.45 L511.85,234.28 L512.63,234.14 L513.41,234.03 L514.19,233.94 L514.96,233.86 L515.74,233.80 L516.52,233.75 L517.29,233.71 L518.07,233.68 L518.85,233.67 L519.62,233.66 L520.40,233.65 L521.18,233.65 L521.96,233.66 L522.73,233.67 L523.51,233.68 L524.29,233.74 L525.06,233.85 L525.84,233.99 L526.62,234.11 L527.39,234.15 L528.17,234.10 L528.95,233.98 L529.73,233.82 L530.50,233.64 L531.28,233.44 L532.06,233.24 L532.83,233.03 L533.61,232.85 L534.39,232.68 L535.16,232.53 L535.94,232.37 L536.72,232.21 L537.50,232.06 L538.27,231.91 L539.05,231.77 L539.83,231.63 L540.60,231.50 L541.38,231.39 L542.16,231.29 L542.93,231.22 L543.71,231.20 L544.49,231.23 L545.26,231.31 L546.04,231.39 L546.82,231.48 L547.60,231.58 L548.37,231.67 L549.15,231.77 L549.93,231.87 L550.70,231.96 L551.48,232.05 L552.26,232.13 L553.03,232.22 L553.81,232.30 L554.59,232.39 L555.37,232.47 L556.14,232.56 L556.92,232.65 L557.70,232.74 L558.47,232.83 L559.25,232.91 L560.03,232.98 L560.80,233.06 L561.58,233.13 L562.36,233.20 L563.14,233.27 L563.91,233.35 L564.69,233.42 L565.47,233.50 L566.24,233.59 L567.02,233.68 L567.80,233.77 L568.57,233.87 L569.35,233.98 L570.13,234.08 L570.91,234.19 L571.68,234.31 L572.46,234.43 L573.24,234.56 L574.01,234.69 L574.79,234.84 L575.57,235.00 L576.34,235.16 L577.12,235.33 L577.90,235.50 L578.67,235.67 L579.45,235.84 L580.23,236.02 L581.01,236.22 L581.78,236.44 L582.56,236.67 L583.34,236.91 L584.11,237.15 L584.89,237.40 L585.67,237.65 L586.44,237.91 L587.22,238.20 L588.00,238.51 L588.78,238.86 L589.55,239.24 L590.33,239.65 L591.11,240.11 L591.88,240.60 L592.66,241.13 L593.44,241.70 L594.21,242.30 L594.99,242.93 L595.77,243.58 L596.55,244.24 L597.32,244.89 L598.10,245.55 L598.88,246.22 L599.65,246.89 L600.43,247.56 L601.21,248.25 L601.98,248.94 L602.76,249.64 L603.54,250.33 L604.32,251.02 L605.09,251.70 L605.87,252.37 L606.65,253.02 L607.42,253.66 L608.20,254.28 L608.98,254.88 L609.75,255.46 L610.53,255.99 L611.31,256.47 L612.09,256.91 L612.86,257.30 L613.64,257.66 L614.42,257.98 L615.19,258.28 L615.97,258.55 L616.75,258.80 L617.52,259.03 L618.30,259.24 L619.08,259.42 L619.85,259.58 L620.63,259.71 L621.41,259.82 L622.19,259.92 L622.96,260.00 L623.74,260.06 L624.52,260.10 L625.29,260.12 L625.29,262.72 L624.52,262.70 L623.74,262.66 L622.96,262.60 L622.19,262.52 L621.41,262.42 L620.63,262.31 L619.85,262.18 L619.08,262.02 L618.30,261.84 L617.52,261.63 L616.75,261.40 L615.97,261.15 L615.19,260.88 L614.42,260.58 L613.64,260.26 L612.86,259.90 L612.09,259.51 L611.31,259.07 L610.53,258.59 L609.75,258.06 L608.98,257.48 L608.20,256.88 L607.42,256.26 L606.65,255.62 L605.87,254.97 L605.09,254.30 L604.32,253.62 L603.54,252.93 L602.76,252.24 L601.98,251.54 L601.21,250.85 L600.43,250.16 L599.65,249.49 L598.88,248.82 L598.10,248.15 L597.32,247.49 L596.55,246.84 L595.77,246.18 L594.99,245.53 L594.21,244.90 L593.44,244.30 L592.66,243.73 L591.88,243.20 L591.11,242.71 L590.33,242.25 L589.55,241.84 L588.78,241.46 L588.00,241.11 L587.22,240.80 L586.44,240.51 L585.67,240.25 L584.89,240.00 L584.11,239.75 L583.34,239.51 L582.56,239.27 L581.78,239.04 L581.01,238.82 L580.23,238.62 L579.45,238.44 L578.67,238.27 L577.90,238.10 L577.12,237.93 L576.34,237.76 L575.57,237.60 L574.79,237.44 L574.01,237.29 L573.24,237.16 L572.46,237.03 L571.68,236.91 L570.91,236.79 L570.13,236.68 L569.35,236.58 L568.57,236.47 L567.80,236.37 L567.02,236.28 L566.24,236.19 L565.47,236.10 L564.69,236.02 L563.91,235.95 L563.14,235.87 L562.36,235.80 L561.58,235.73 L560.80,235.66 L560.03,235.58 L559.25,235.51 L558.47,235.43 L557.70,235.34 L556.92,235.25 L556.14,235.16 L555.37,235.07 L554.59,234.99 L553.81,234.90 L553.03,234.82 L552.26,234.73 L551.48,234.65 L550.70,234.56 L549.93,234.47 L549.15,234.37 L548.37,234.27 L547.60,234.18 L546.82,234.08 L546.04,233.99 L545.26,233.91 L544.49,233.83 L543.71,233.80 L542.93,233.82 L542.16,233.89 L541.38,233.99 L540.60,234.10 L539.83,234.23 L539.05,234.37 L538.27,234.51 L537.50,234.66 L536.72,234.81 L535.94,234.97 L535.16,235.13 L534.39,235.28 L533.61,235.45 L532.83,235.63 L532.06,235.84 L531.28,236.04 L530.50,236.24 L529.73,236.42 L528.95,236.58 L528.17,236.70 L527.39,236.75 L526.62,236.71 L525.84,236.59 L525.06,236.45 L524.29,236.34 L523.51,236.28 L522.73,236.27 L521.96,236.26 L521.18,236.25 L520.40,236.25 L519.62,236.26 L518.85,236.27 L518.07,236.28 L517.29,236.31 L516.52,236.35 L515.74,236.40 L514.96,236.46 L514.19,236.54 L513.41,236.63 L512.63,236.74 L511.85,236.88 L511.08,237.05 L510.30,237.27 L509.52,237.52 L508.75,237.79 L507.97,238.09 L507.19,238.41 L506.42,238.75 L505.64,239.15 L504.86,239.58 L504.08,240.05 L503.31,240.55 L502.53,241.08 L501.75,241.65 L500.98,242.23 L500.20,242.82 L499.42,243.45 L498.65,244.13 L497.87,244.87 L497.09,245.69 L496.32,246.58 L495.54,247.51 L494.76,248.43 L493.98,249.34 L493.21,250.22 L492.43,251.08 L491.65,251.90 L490.88,252.70 L490.10,253.47 L489.32,254.22 L488.55,254.96 L487.77,255.70 L486.99,256.44 L486.21,257.18 L485.44,257.94 L484.66,258.66 L483.88,259.26 L483.11,259.76 L482.33,260.17 L481.55,260.52 L480.78,260.84 L480.00,261.14 L479.22,261.44 L478.44,261.71 L477.67,261.97 L476.89,262.19 L476.11,262.38 L475.34,262.53 L474.56,262.66 L473.78,262.76 L473.01,262.85 L472.23,262.91 L471.45,262.95 L470.67,262.95Z" fill="#dddddd" stroke="none"/>
<path d="M470.67,261.65 L471.45,261.65 L472.23,261.61 L473.01,261.55 L473.78,261.46 L474.56,261.36 L475.34,261.23 L476.11,261.08 L476.89,260.89 L477.67,260.67 L478.44,260.41 L479.22,260.14 L480.00,259.84 L480.78,259.54 L481.55,259.22 L482.33,258.87 L483.11,258.46 L483.88,257.96 L484.66,257.36 L485.44,256.64 L486.21,255.88 L486.99,255.14 L487.77,254.40 L488.55,253.66 L489.32,252.92 L490.10,252.17 L490.88,251.40 L491.65,250.60 L492.43,249.78 L493.21,248.92 L493.98,248.04 L494.76,247.13 L495.54,246.21 L496.32,245.28 L497.09,244.39 L497.87,243.57 L498.65,242.83 L499.42,242.15 L500.20,241.52 L500.98,240.93 L501.75,240.35 L502.53,239.78 L503.31,239.25 L504.08,238.75 L504.86,238.28 L505.64,237.85 L506.42,237.45 L507.19,237.11 L507.97,236.79 L508.75,236.49 L509.52,236.22 L510.30,235.97 L511.08,235.75 L511.85,235.58 L512.63,235.44 L513.41,235.33 L514.19,235.24 L514.96,235.16 L515.74,235.10 L516.52,235.05 L517.29,235.01 L518.07,234.98 L518.85,234.97 L519.62,234.96 L520.40,234.95 L521.18,234.95 L521.96,234.96 L522.73,234.97 L523.51,234.98 L524.29,235.04 L525.06,235.15 L525.84,235.29 L526.62,235.41 L527.39,235.45 L528.17,235.40 L528.95,235.28 L529.73,235.12 L530.50,234.94 L531.28,234.74 L532.06,234.54 L532.83,234.33 L533.61,234.15 L534.39,233.98 L535.16,233.83 L535.94,233.67 L536.72,233.51 L537.50,233.36 L538.27,233.21 L539.05,233.07 L539.83,232.93 L540.60,232.80 L541.38,232.69 L542.16,232.59 L542.93,232.52 L543.71,232.50 L544.49,232.53 L545.26,232.61 L546.04,232.69 L546.82,232.78 L547.60,232.88 L548.37,232.97 L549.15,233.07 L549.93,233.17 L550.70,233.26 L551.48,233.35 L552.26,233.43 L553.03,233.52 L553.81,233.60 L554.59,233.69 L555.37,233.77 L556.14,233.86 L556.92,233.95 L557.70,234.04 L558.47,234.13 L559.25,234.21 L560.03,234.28 L560.80,234.36 L561.58,234.43 L562.36,234.50 L563.14,234.57 L563.91,234.65 L564.69,234.72 L565.47,234.80 L566.24,234.89 L567.02,234.98 L567.80,235.07 L568.57,235.17 L569.35,235.28 L570.13,235.38 L570.91,235.49 L571.68,235.61 L572.46,235.73 L573.24,235.86 L574.01,235.99 L574.79,236.14 L575.57,236.30 L576.34,236.46 L577.12,236.63 L577.90,236.80 L578.67,236.97 L579.45,237.14 L580.23,237.32 L581.01,237.52 L581.78,237.74 L582.56,237.97 L583.34,238.21 L584.11,238.45 L584.89,238.70 L585.67,238.95 L586.44,239.21 L587.22,239.50 L588.00,239.81 L588.78,240.16 L589.55,240.54 L590.33,240.95 L591.11,241.41 L591.88,241.90 L592.66,242.43 L593.44,243.00 L594.21,243.60 L594.99,244.23 L595.77,244.88 L596.55,245.54 L597.32,246.19 L598.10,246.85 L598.88,247.52 L599.65,248.19 L600.43,248.86 L601.21,249.55 L601.98,250.24 L602.76,250.94 L603.54,251.63 L604.32,252.32 L605.09,253.00 L605.87,253.67 L606.65,254.32 L607.42,254.96 L608.20,255.58 L608.98,256.18 L609.75,256.76 L610.53,257.29 L611.31,257.77 L612.09,258.21 L612.86,258.60 L613.64,258.96 L614.42,259.28 L615.19,259.58 L615.97,259.85 L616.75,260.10 L617.52,260.33 L618.30,260.54 L619.08,260.72 L619.85,260.88 L620.63,261.01 L621.41,261.12 L622.19,261.22 L622.96,261.30 L623.74,261.36 L624.52,261.40 L625.29,261.42" fill="none" stroke="#767676" stroke-width="1.55" stroke-linejoin="round" stroke-linecap="square"/>
<path d="M470.67,260.88 L471.41,260.95 L472.14,260.98 L472.87,260.98 L473.61,260.94 L474.34,260.85 L475.07,260.72 L475.81,260.53 L476.54,260.29 L477.27,259.98 L478.01,259.64 L478.74,259.28 L479.47,258.90 L480.20,258.52 L480.94,258.15 L481.67,257.78 L482.40,257.38 L483.14,256.91 L483.87,256.37 L484.60,255.72 L485.34,254.95 L486.07,254.12 L486.80,253.27 L487.54,252.40 L488.27,251.51 L489.00,250.62 L489.73,249.71 L490.47,248.79 L491.20,247.85 L491.93,246.86 L492.67,245.82 L493.40,244.74 L494.13,243.64 L494.87,242.54 L495.60,241.44 L496.33,240.37 L497.06,239.40 L497.80,238.56 L498.53,237.84 L499.26,237.21 L500.00,236.66 L500.73,236.17 L501.46,235.71 L502.20,235.25 L502.93,234.81 L503.66,234.42 L504.40,234.10 L505.13,233.88 L505.86,233.80 L506.59,233.84 L507.33,233.93 L508.06,234.03 L508.79,234.15 L509.53,234.28 L510.26,234.41 L510.99,234.54 L511.73,234.64 L512.46,234.73 L513.19,234.78 L513.92,234.83 L514.66,234.87 L515.39,234.90 L516.12,234.92 L516.86,234.92 L517.59,234.90 L518.32,234.87 L519.06,234.76 L519.79,234.58 L520.52,234.35 L521.26,234.07 L521.99,233.78 L522.72,233.47 L523.45,233.18 L524.19,232.93 L524.92,232.71 L525.65,232.51 L526.39,232.30 L527.12,232.05 L527.85,231.76 L528.59,231.39 L529.32,230.93 L530.05,230.34 L530.79,229.65 L531.52,228.89 L532.25,228.07 L532.98,227.22 L533.72,226.34 L534.45,225.45 L535.18,224.57 L535.92,223.72 L536.65,222.90 L537.38,222.12 L538.12,221.37 L538.85,220.63 L539.58,219.91 L540.31,219.19 L541.05,218.49 L541.78,217.87 L542.51,217.41 L543.25,217.12 L543.98,217.02 L544.71,217.20 L545.45,217.64 L546.18,218.25 L546.91,218.94 L547.65,219.64 L548.38,220.35 L549.11,221.12 L549.84,221.96 L550.58,222.92 L551.31,223.94 L552.04,224.96 L552.78,225.92 L553.51,226.74 L554.24,227.38 L554.98,227.93 L555.71,228.41 L556.44,228.85 L557.18,229.26 L557.91,229.63 L558.64,229.96 L559.37,230.28 L560.11,230.58 L560.84,230.86 L561.57,231.11 L562.31,231.33 L563.04,231.50 L563.77,231.62 L564.51,231.73 L565.24,231.83 L565.97,231.94 L566.70,232.04 L567.44,232.14 L568.17,232.23 L568.90,232.31 L569.64,232.39 L570.37,232.46 L571.10,232.52 L571.84,232.56 L572.57,232.59 L573.30,232.62 L574.04,232.66 L574.77,232.71 L575.50,232.76 L576.23,232.83 L576.97,232.91 L577.70,233.01 L578.43,233.12 L579.17,233.25 L579.90,233.39 L580.63,233.54 L581.37,233.70 L582.10,233.88 L582.83,234.08 L583.57,234.32 L584.30,234.62 L585.03,234.98 L585.76,235.39 L586.50,235.86 L587.23,236.39 L587.96,236.98 L588.70,237.59 L589.43,238.20 L590.16,238.82 L590.90,239.47 L591.63,240.13 L592.36,240.83 L593.09,241.56 L593.83,242.34 L594.56,243.17 L595.29,244.05 L596.03,244.96 L596.76,245.86 L597.49,246.75 L598.23,247.62 L598.96,248.45 L599.69,249.26 L600.43,250.05 L601.16,250.81 L601.89,251.55 L602.62,252.26 L603.36,252.94 L604.09,253.60 L604.82,254.24 L605.56,254.85 L606.29,255.45 L607.02,256.02 L607.76,256.55 L608.49,257.06 L609.22,257.54 L609.95,257.98 L610.69,258.38 L611.42,258.76 L612.15,259.11 L612.89,259.42 L613.62,259.70 L614.35,259.94 L615.09,260.13 L615.82,260.29 L616.55,260.40 L616.55,262.01 L615.82,261.90 L615.09,261.75 L614.35,261.56 L613.62,261.33 L612.89,261.06 L612.15,260.76 L611.42,260.42 L610.69,260.05 L609.95,259.65 L609.22,259.22 L608.49,258.75 L607.76,258.25 L607.02,257.72 L606.29,257.16 L605.56,256.57 L604.82,255.96 L604.09,255.33 L603.36,254.67 L602.62,254.00 L601.89,253.30 L601.16,252.57 L600.43,251.81 L599.69,251.02 L598.96,250.22 L598.23,249.40 L597.49,248.54 L596.76,247.65 L596.03,246.76 L595.29,245.86 L594.56,244.98 L593.83,244.15 L593.09,243.38 L592.36,242.65 L591.63,241.96 L590.90,241.30 L590.16,240.66 L589.43,240.04 L588.70,239.44 L587.96,238.84 L587.23,238.25 L586.50,237.72 L585.76,237.26 L585.03,236.85 L584.30,236.50 L583.57,236.21 L582.83,235.96 L582.10,235.77 L581.37,235.60 L580.63,235.44 L579.90,235.29 L579.17,235.16 L578.43,235.04 L577.70,234.92 L576.97,234.83 L576.23,234.75 L575.50,234.69 L574.77,234.64 L574.04,234.59 L573.30,234.56 L572.57,234.53 L571.84,234.50 L571.10,234.46 L570.37,234.41 L569.64,234.34 L568.90,234.27 L568.17,234.19 L567.44,234.10 L566.70,234.00 L565.97,233.90 L565.24,233.80 L564.51,233.70 L563.77,233.59 L563.04,233.47 L562.31,233.30 L561.57,233.09 L560.84,232.84 L560.11,232.56 L559.37,232.26 L558.64,231.95 L557.91,231.62 L557.18,231.24 L556.44,230.84 L555.71,230.40 L554.98,229.92 L554.24,229.38 L553.51,228.73 L552.78,227.91 L552.04,226.95 L551.31,225.93 L550.58,224.92 L549.84,223.96 L549.11,223.12 L548.38,222.35 L547.65,221.64 L546.91,220.94 L546.18,220.25 L545.45,219.64 L544.71,219.20 L543.98,219.02 L543.25,219.12 L542.51,219.41 L541.78,219.87 L541.05,220.49 L540.31,221.19 L539.58,221.91 L538.85,222.63 L538.12,223.36 L537.38,224.12 L536.65,224.89 L535.92,225.71 L535.18,226.57 L534.45,227.44 L533.72,228.33 L532.98,229.21 L532.25,230.06 L531.52,230.88 L530.79,231.64 L530.05,232.33 L529.32,232.91 L528.59,233.37 L527.85,233.74 L527.12,234.03 L526.39,234.27 L525.65,234.48 L524.92,234.68 L524.19,234.90 L523.45,235.14 L522.72,235.43 L521.99,235.74 L521.26,236.04 L520.52,236.31 L519.79,236.54 L519.06,236.71 L518.32,236.82 L517.59,236.85 L516.86,236.87 L516.12,236.86 L515.39,236.84 L514.66,236.81 L513.92,236.76 L513.19,236.71 L512.46,236.65 L511.73,236.57 L510.99,236.46 L510.26,236.33 L509.53,236.20 L508.79,236.06 L508.06,235.94 L507.33,235.83 L506.59,235.74 L505.86,235.70 L505.13,235.77 L504.40,235.98 L503.66,236.30 L502.93,236.69 L502.20,237.12 L501.46,237.58 L500.73,238.04 L500.00,238.52 L499.26,239.06 L498.53,239.68 L497.80,240.40 L497.06,241.24 L496.33,242.20 L495.60,243.27 L494.87,244.36 L494.13,245.46 L493.40,246.56 L492.67,247.63 L491.93,248.66 L491.20,249.65 L490.47,250.58 L489.73,251.49 L489.00,252.40 L488.27,253.29 L487.54,254.17 L486.80,255.03 L486.07,255.87 L485.34,256.70 L484.60,257.46 L483.87,258.11 L483.14,258.64 L482.40,259.10 L481.67,259.50 L480.94,259.86 L480.20,260.22 L479.47,260.60 L478.74,260.97 L478.01,261.32 L477.27,261.66 L476.54,261.96 L475.81,262.20 L475.07,262.37 L474.34,262.50 L473.61,262.58 L472.87,262.61 L472.14,262.61 L471.41,262.57 L470.67,262.49Z" fill="#eeb1a9" stroke="none"/>
<path d="M470.67,261.69 L471.41,261.76 L472.14,261.80 L472.87,261.80 L473.61,261.76 L474.34,261.68 L475.07,261.55 L475.81,261.36 L476.54,261.12 L477.27,260.82 L478.01,260.48 L478.74,260.12 L479.47,259.75 L480.20,259.37 L480.94,259.01 L481.67,258.64 L482.40,258.24 L483.14,257.78 L483.87,257.24 L484.60,256.59 L485.34,255.83 L486.07,255.00 L486.80,254.15 L487.54,253.28 L488.27,252.40 L489.00,251.51 L489.73,250.60 L490.47,249.68 L491.20,248.75 L491.93,247.76 L492.67,246.73 L493.40,245.65 L494.13,244.55 L494.87,243.45 L495.60,242.36 L496.33,241.29 L497.06,240.32 L497.80,239.48 L498.53,238.76 L499.26,238.13 L500.00,237.59 L500.73,237.10 L501.46,236.64 L502.20,236.19 L502.93,235.75 L503.66,235.36 L504.40,235.04 L505.13,234.83 L505.86,234.75 L506.59,234.79 L507.33,234.88 L508.06,234.98 L508.79,235.11 L509.53,235.24 L510.26,235.37 L510.99,235.50 L511.73,235.61 L512.46,235.69 L513.19,235.74 L513.92,235.79 L514.66,235.84 L515.39,235.87 L516.12,235.89 L516.86,235.89 L517.59,235.88 L518.32,235.84 L519.06,235.74 L519.79,235.56 L520.52,235.33 L521.26,235.05 L521.99,234.76 L522.72,234.45 L523.45,234.16 L524.19,233.91 L524.92,233.70 L525.65,233.49 L526.39,233.28 L527.12,233.04 L527.85,232.75 L528.59,232.38 L529.32,231.92 L530.05,231.34 L530.79,230.64 L531.52,229.88 L532.25,229.07 L532.98,228.21 L533.72,227.33 L534.45,226.45 L535.18,225.57 L535.92,224.71 L536.65,223.90 L537.38,223.12 L538.12,222.37 L538.85,221.63 L539.58,220.91 L540.31,220.19 L541.05,219.49 L541.78,218.87 L542.51,218.41 L543.25,218.12 L543.98,218.02 L544.71,218.20 L545.45,218.64 L546.18,219.25 L546.91,219.94 L547.65,220.64 L548.38,221.35 L549.11,222.12 L549.84,222.96 L550.58,223.92 L551.31,224.94 L552.04,225.95 L552.78,226.91 L553.51,227.73 L554.24,228.38 L554.98,228.93 L555.71,229.41 L556.44,229.84 L557.18,230.25 L557.91,230.62 L558.64,230.95 L559.37,231.27 L560.11,231.57 L560.84,231.85 L561.57,232.10 L562.31,232.32 L563.04,232.49 L563.77,232.61 L564.51,232.71 L565.24,232.82 L565.97,232.92 L566.70,233.02 L567.44,233.12 L568.17,233.21 L568.90,233.29 L569.64,233.37 L570.37,233.43 L571.10,233.49 L571.84,233.53 L572.57,233.56 L573.30,233.59 L574.04,233.63 L574.77,233.67 L575.50,233.73 L576.23,233.79 L576.97,233.87 L577.70,233.96 L578.43,234.08 L579.17,234.21 L579.90,234.34 L580.63,234.49 L581.37,234.65 L582.10,234.82 L582.83,235.02 L583.57,235.27 L584.30,235.56 L585.03,235.91 L585.76,236.32 L586.50,236.79 L587.23,237.32 L587.96,237.91 L588.70,238.51 L589.43,239.12 L590.16,239.74 L590.90,240.38 L591.63,241.05 L592.36,241.74 L593.09,242.47 L593.83,243.24 L594.56,244.07 L595.29,244.95 L596.03,245.86 L596.76,246.76 L597.49,247.64 L598.23,248.51 L598.96,249.33 L599.69,250.14 L600.43,250.93 L601.16,251.69 L601.89,252.42 L602.62,253.13 L603.36,253.80 L604.09,254.46 L604.82,255.10 L605.56,255.71 L606.29,256.30 L607.02,256.87 L607.76,257.40 L608.49,257.91 L609.22,258.38 L609.95,258.81 L610.69,259.22 L611.42,259.59 L612.15,259.93 L612.89,260.24 L613.62,260.51 L614.35,260.75 L615.09,260.94 L615.82,261.09 L616.55,261.21" fill="none" stroke="#a55a57" stroke-width="1.55" stroke-linejoin="round" stroke-linecap="square"/>
<rect x="462.3" y="158.0" width="171.30" height="110.25" fill="none" stroke="#000" stroke-width="1.15"/>
<path d="M505.12,158.0v3.4M505.12,268.25v-3.4M547.95,158.0v3.4M547.95,268.25v-3.4M590.77,158.0v3.4M590.77,268.25v-3.4M462.3,261.55h3.4M633.6,261.55h-3.4M462.3,235.83h3.4M633.6,235.83h-3.4M462.3,210.11h3.4M633.6,210.11h-3.4M462.3,184.39h3.4M633.6,184.39h-3.4M462.3,158.67h3.4M633.6,158.67h-3.4" stroke="#000" stroke-width="0.95" fill="none"/>
<text transform="translate(547.65,258.85) scale(1.04,1)" font-size="13.2" text-anchor="middle" ><tspan font-style="italic" font-size="14.2">σ</tspan> = 1.5</text>
<text transform="translate(462.30,280.30) scale(1.085,1)" font-size="11.4" text-anchor="middle" >-10</text>
<text transform="translate(505.12,280.30) scale(1.085,1)" font-size="11.4" text-anchor="middle" >-5</text>
<text transform="translate(547.95,280.30) scale(1.085,1)" font-size="11.4" text-anchor="middle" >0</text>
<text transform="translate(590.77,280.30) scale(1.085,1)" font-size="11.4" text-anchor="middle" >5</text>
<text transform="translate(633.60,280.30) scale(1.085,1)" font-size="11.4" text-anchor="middle" >10</text>
<text transform="translate(551.45,299.00) scale(1.085,1)" font-size="12.7" text-anchor="middle" ><tspan font-style="italic">j</tspan>-position (site)</text>
<path d="M507.15,288.3 q0.9,-1.3 1.9,-0.4 t1.9,-0.4" fill="none" stroke="#000" stroke-width="0.9"/>
<path d="M117.2,90.6h19.6" stroke="#606060" stroke-width="1.1"/>
<path d="M117.2,103.4h19.6" stroke="#a04444" stroke-width="1.1"/>
<text transform="translate(138.70,94.20) scale(1.085,1)" font-size="11.1" text-anchor="start" >No quench</text>
<text transform="translate(139.30,107.00) scale(1.085,1)" font-size="11.1" text-anchor="start" >Quench</text>
<g transform="translate(0,87.4) rotate(-90)"><path d="M-9.60,23.35 L-13.10,31.25 L-9.60,39.15" fill="none" stroke="#000" stroke-width="0.95"/><path d="M9.50,23.35 L13.00,31.25 L9.50,39.15" fill="none" stroke="#000" stroke-width="0.95"/><path d="M1.00,25.20 H-7.00 L-2.60,29.85 L-7.00,34.50 H1.00" fill="none" stroke="#000" stroke-width="1.3" stroke-linejoin="miter"/><path d="M-5.50,22.95 L-3.80,20.55 L-2.10,22.95" fill="none" stroke="#000" stroke-width="1.15"/><text x="1.70" y="28.85" font-size="10.8">2</text><text x="2.70" y="40.55" font-size="11" font-style="italic">j</text><path d="M2.10,32.65 q0.9,-1.2 1.8,-0.3 t1.8,-0.3" fill="none" stroke="#000" stroke-width="0.75"/></g>
<g transform="translate(0,212.4) rotate(-90)"><path d="M-9.60,23.35 L-13.10,31.25 L-9.60,39.15" fill="none" stroke="#000" stroke-width="0.95"/><path d="M9.50,23.35 L13.00,31.25 L9.50,39.15" fill="none" stroke="#000" stroke-width="0.95"/><path d="M1.00,25.20 H-7.00 L-2.60,29.85 L-7.00,34.50 H1.00" fill="none" stroke="#000" stroke-width="1.3" stroke-linejoin="miter"/><path d="M-5.50,22.95 L-3.80,20.55 L-2.10,22.95" fill="none" stroke="#000" stroke-width="1.15"/><text x="1.70" y="28.85" font-size="10.8">2</text><text x="2.70" y="40.55" font-size="11" font-style="italic">j</text><path d="M2.10,32.65 q0.9,-1.2 1.8,-0.3 t1.8,-0.3" fill="none" stroke="#000" stroke-width="0.75"/></g>
<g transform="translate(0,406) rotate(-90)"><path d="M-18.80,24.40 L-22.30,32.30 L-18.80,40.20" fill="none" stroke="#000" stroke-width="0.95"/><path d="M18.80,24.40 L22.30,32.30 L18.80,40.20" fill="none" stroke="#000" stroke-width="0.95"/><path d="M-8.30,26.25 H-16.30 L-11.90,30.90 L-16.30,35.55 H-8.30" fill="none" stroke="#000" stroke-width="1.3" stroke-linejoin="miter"/><path d="M-14.80,24.00 L-13.10,21.60 L-11.40,24.00" fill="none" stroke="#000" stroke-width="1.15"/><text x="-7.60" y="29.90" font-size="10.8">2</text><path d="M-5.90,37.60 h6.5" stroke="#000" stroke-width="0.9"/><text x="2.30" y="40.90" font-size="10.4">0.5</text></g>
<g transform="translate(0,406) rotate(-90)"><path d="M-54.40,350.05 L-57.50,357.95 L-54.40,365.85" fill="none" stroke="#000" stroke-width="0.95"/><path d="M54.40,350.05 L57.60,357.95 L54.40,365.85" fill="none" stroke="#000" stroke-width="0.95"/><path d="M-43.60,351.90 H-51.60 L-47.20,356.55 L-51.60,361.20 H-43.60" fill="none" stroke="#000" stroke-width="1.3" stroke-linejoin="miter"/><path d="M-50.10,349.65 L-48.40,347.25 L-46.70,349.65" fill="none" stroke="#000" stroke-width="1.15"/><text x="-42.90" y="355.55" font-size="10.8">2</text><path d="M-41.20,363.25 h6.5" stroke="#000" stroke-width="0.9"/><text x="-33.00" y="366.55" font-size="10.4">0.5</text><path d="M-14.6,357.95 h9.3" stroke="#000" stroke-width="0.95"/><path d="M8.90,351.90 H0.90 L5.30,356.55 L0.90,361.20 H8.90" fill="none" stroke="#000" stroke-width="1.3" stroke-linejoin="miter"/><path d="M2.40,349.65 L4.10,347.25 L5.80,349.65" fill="none" stroke="#000" stroke-width="1.15"/><text x="9.60" y="355.55" font-size="10.8">2</text><path d="M11.30,363.25 h6.5" stroke="#000" stroke-width="0.9"/><text x="19.50" y="366.55" font-size="10.4">0.5</text><text x="33.00" y="366.55" font-size="10.4">,</text><text x="36.00" y="366.55" font-size="9.6" font-family="Liberation Serif, serif" stroke="none" style="stroke:none" textLength="15.4" lengthAdjust="spacingAndGlyphs">BG</text></g>
<text x="14.90" y="26.80" font-size="17.4" text-anchor="start" font-weight="bold">A</text>
<text x="14.70" y="337.90" font-size="17.4" text-anchor="start" font-weight="bold">B</text>
<text x="328.00" y="337.70" font-size="17.4" text-anchor="start" font-weight="bold">C</text>
<path d="M69.30,449.90 L78.00,445.29 L94.70,436.76 L111.20,429.03 L136.50,417.29 L178.40,402.21 L220.00,390.94 L303.90,381.30 L303.90,385.30 L220.00,394.66 L178.40,405.79 L136.50,420.71 L111.20,432.37 L94.70,440.04 L78.00,448.51 L69.30,453.10Z" fill="#dddddd"/>
<path d="M69.30,451.50 L78.00,446.90 L94.70,438.40 L111.20,430.70 L136.50,419.00 L178.40,404.00 L220.00,392.80 L303.90,383.30" fill="none" stroke="#767676" stroke-width="1.55" stroke-linejoin="round"/>
<path d="M69.30,441.30 L78.00,433.80 L94.70,421.50 L111.20,411.70 L136.50,398.10 L178.40,381.90 L220.00,372.10 L303.90,360.70 L303.90,371.90 L220.00,381.50 L178.40,390.30 L136.50,405.30 L111.20,417.30 L94.70,425.50 L78.00,436.20 L69.30,442.90Z" fill="#eeb1a9"/>
<path d="M69.30,442.10 L78.00,435.00 L94.70,423.50 L111.20,414.50 L136.50,401.70 L178.40,386.10 L220.00,376.80 L303.90,366.30" fill="none" stroke="#a55a57" stroke-width="1.55" stroke-linejoin="round"/>
<rect x="69.3" y="340.5" width="234.60" height="131.65" fill="none" stroke="#000" stroke-width="1.15"/>
<path d="M86.06,340.5v3.4M86.06,472.15v-3.4M119.57,340.5v3.4M119.57,472.15v-3.4M153.09,340.5v3.4M153.09,472.15v-3.4M186.60,340.5v3.4M186.60,472.15v-3.4M220.11,340.5v3.4M220.11,472.15v-3.4M253.63,340.5v3.4M253.63,472.15v-3.4M287.14,340.5v3.4M287.14,472.15v-3.4M69.3,467.50h3.4M303.9,467.50h-3.4M69.3,444.75h3.4M303.9,444.75h-3.4M69.3,422.00h3.4M303.9,422.00h-3.4M69.3,399.25h3.4M303.9,399.25h-3.4M69.3,376.50h3.4M303.9,376.50h-3.4M69.3,353.75h3.4M303.9,353.75h-3.4" stroke="#000" stroke-width="0.95" fill="none"/>
<text transform="translate(86.06,484.00) scale(1.085,1)" font-size="11.4" text-anchor="middle" >2</text>
<text transform="translate(153.09,484.00) scale(1.085,1)" font-size="11.4" text-anchor="middle" >6</text>
<text transform="translate(220.11,484.00) scale(1.085,1)" font-size="11.4" text-anchor="middle" >10</text>
<text transform="translate(287.14,484.00) scale(1.085,1)" font-size="11.4" text-anchor="middle" >14</text>
<text transform="translate(64.90,380.45) scale(1.05,1)" font-size="11.4" text-anchor="end" >1.0</text>
<text transform="translate(64.90,425.95) scale(1.05,1)" font-size="11.4" text-anchor="end" >0.5</text>
<text transform="translate(64.90,471.45) scale(1.05,1)" font-size="11.4" text-anchor="end" >0.0</text>
<text transform="translate(186.60,499.20) scale(1.065,1)" font-size="12.4" text-anchor="middle" ><tspan font-style="italic" font-size="13.2">σ</tspan> (sites)</text>
<path d="M208.8,436.7h19.2" stroke="#606060" stroke-width="1.1"/>
<path d="M208.8,449.2h19.2" stroke="#a04444" stroke-width="1.1"/>
<text transform="translate(229.80,440.60) scale(1.085,1)" font-size="11.1" text-anchor="start" >No quench</text>
<text transform="translate(230.50,453.20) scale(1.085,1)" font-size="11.1" text-anchor="start" >Quench</text>
<path d="M398.90,414.55 L407.29,400.46 L424.06,382.96 L440.83,370.57 L465.99,361.82 L507.91,355.50 L549.84,352.59 L633.70,351.62 L633.70,413.58 L549.84,408.72 L507.91,405.32 L465.99,401.67 L440.83,402.64 L424.06,407.99 L407.29,416.50 L398.90,422.33Z" fill="#f8dfdb"/>
<path d="M398.90,418.44 L407.29,408.72 L424.06,395.11 L440.83,387.09 L465.99,382.72 L507.91,381.02 L549.84,381.50 L633.70,383.45" fill="none" stroke="#a55a57" stroke-width="1.55" stroke-linejoin="round"/>
<path d="M398.9,350.40H633.7" stroke="#7f7f7f" stroke-width="2" stroke-dasharray="7.2,3.14" fill="none"/>
<rect x="398.9" y="340.5" width="234.80" height="131.65" fill="none" stroke="#000" stroke-width="1.15"/>
<path d="M415.67,340.5v3.4M415.67,472.15v-3.4M449.21,340.5v3.4M449.21,472.15v-3.4M482.76,340.5v3.4M482.76,472.15v-3.4M516.30,340.5v3.4M516.30,472.15v-3.4M549.84,340.5v3.4M549.84,472.15v-3.4M583.39,340.5v3.4M583.39,472.15v-3.4M616.93,340.5v3.4M616.93,472.15v-3.4M398.9,447.60h3.4M633.7,447.60h-3.4M398.9,423.30h3.4M633.7,423.30h-3.4M398.9,399.00h3.4M633.7,399.00h-3.4M398.9,374.70h3.4M633.7,374.70h-3.4M398.9,350.40h3.4M633.7,350.40h-3.4" stroke="#000" stroke-width="0.95" fill="none"/>
<text transform="translate(415.67,484.00) scale(1.085,1)" font-size="11.4" text-anchor="middle" >2</text>
<text transform="translate(482.76,484.00) scale(1.085,1)" font-size="11.4" text-anchor="middle" >6</text>
<text transform="translate(549.84,484.00) scale(1.085,1)" font-size="11.4" text-anchor="middle" >10</text>
<text transform="translate(616.93,484.00) scale(1.085,1)" font-size="11.4" text-anchor="middle" >14</text>
<text transform="translate(394.80,354.35) scale(1.02,1)" font-size="11.4" text-anchor="end" >0.25</text>
<text transform="translate(394.80,378.65) scale(1.02,1)" font-size="11.4" text-anchor="end" >0.2</text>
<text transform="translate(394.80,427.25) scale(1.02,1)" font-size="11.4" text-anchor="end" >0.1</text>
<text transform="translate(394.80,475.85) scale(1.02,1)" font-size="11.4" text-anchor="end" >0.0</text>
<text transform="translate(516.30,499.20) scale(1.065,1)" font-size="12.4" text-anchor="middle" ><tspan font-style="italic" font-size="13.2">σ</tspan> (sites)</text>
</svg>
</body></html>
